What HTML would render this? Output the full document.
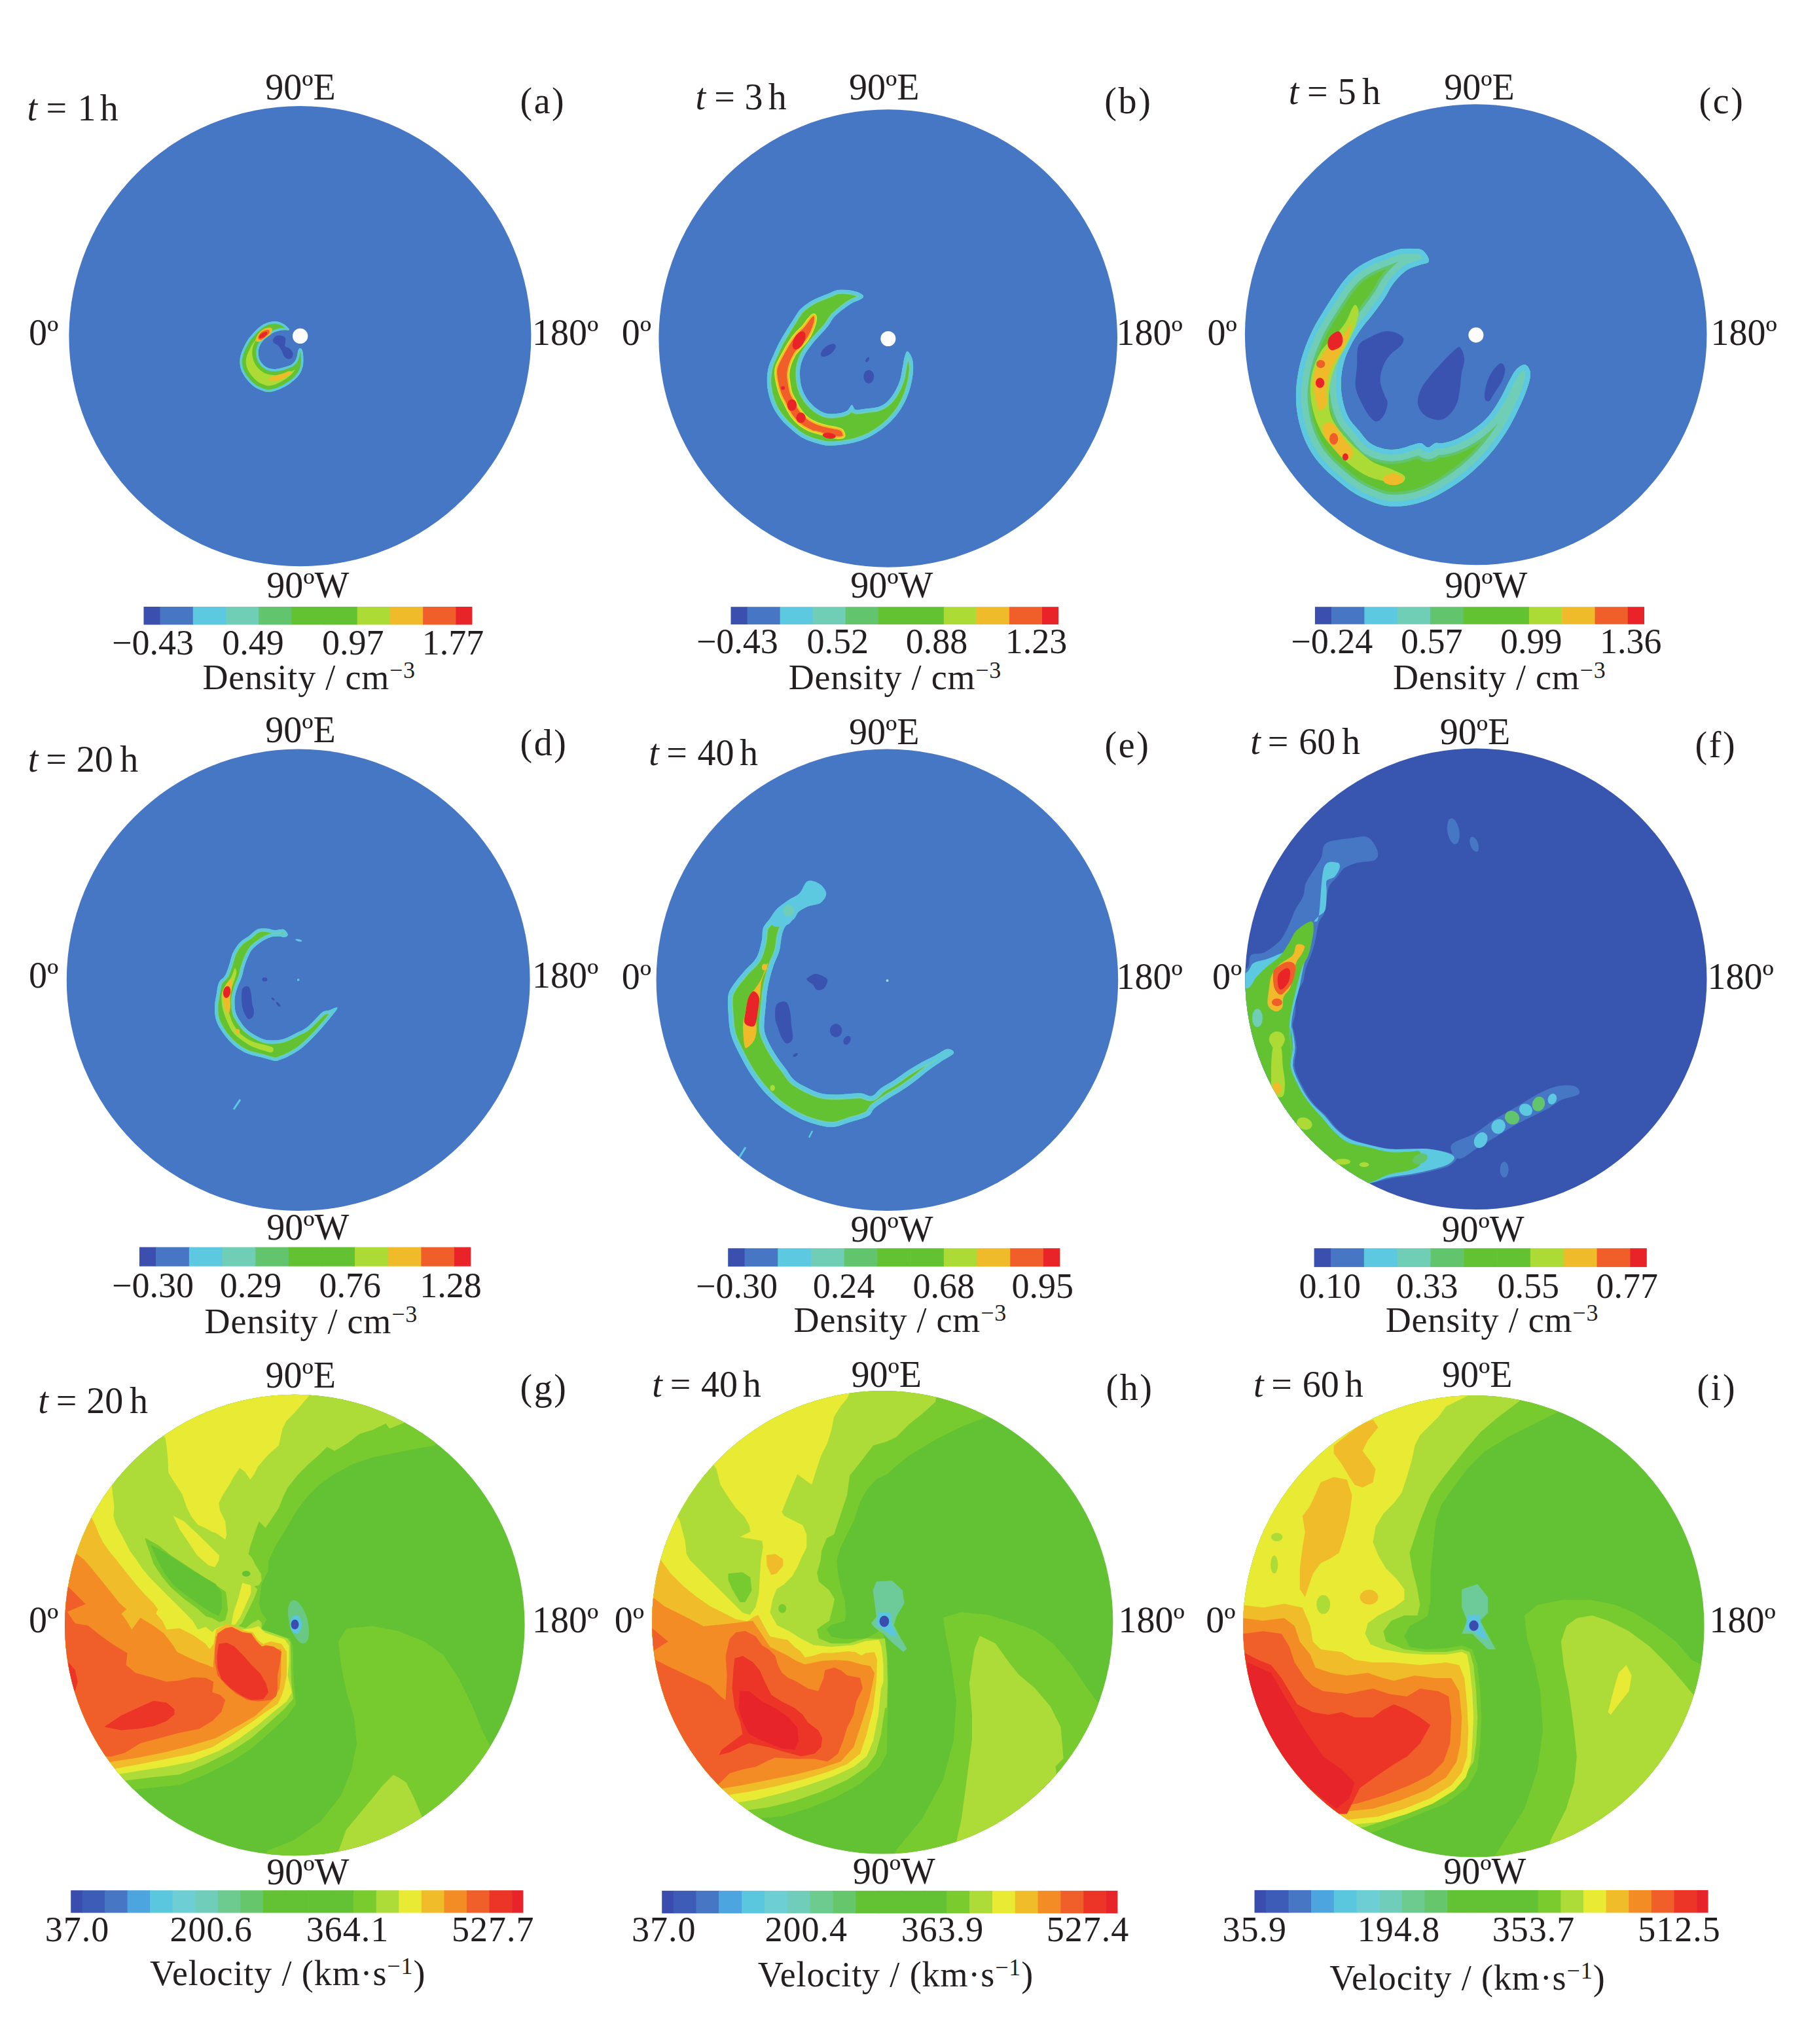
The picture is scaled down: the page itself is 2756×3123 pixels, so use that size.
<!DOCTYPE html>
<html><head><meta charset="utf-8"><title>Figure</title>
<style>
html,body{margin:0;padding:0;background:#fff;}
svg{display:block;}
text{font-family:"Liberation Serif","Times New Roman",serif;fill:#231F20;}
</style></head><body>
<svg xmlns="http://www.w3.org/2000/svg" width="2756" height="3123" viewBox="0 0 2756 3123">
<rect width="2756" height="3123" fill="#fff"/>
<g id="pa">
<clipPath id="cla"><ellipse cx="458.4" cy="513.7" rx="353.0" ry="351.6"/></clipPath>
<ellipse cx="458.4" cy="513.7" rx="353.0" ry="351.6" fill="#4677C5"/>
<g clip-path="url(#cla)"><g transform="translate(350,470) scale(0.077604)"><clipPath id="band6"><path d="M1180.0,420.0 C1168.3,402.5 1130.0,361.7 1100.0,340.0 C1070.0,318.3 1033.3,301.7 1000.0,290.0 C966.7,278.3 936.7,270.0 900.0,270.0 C863.3,270.0 816.7,280.0 780.0,290.0 C743.3,300.0 713.3,311.7 680.0,330.0 C646.7,348.3 613.3,371.7 580.0,400.0 C546.7,428.3 513.3,463.3 480.0,500.0 C446.7,536.7 410.0,576.7 380.0,620.0 C350.0,663.3 323.3,713.3 300.0,760.0 C276.7,806.7 255.0,851.7 240.0,900.0 C225.0,948.3 211.7,1000.0 210.0,1050.0 C208.3,1100.0 216.7,1153.3 230.0,1200.0 C243.3,1246.7 265.0,1288.3 290.0,1330.0 C315.0,1371.7 345.0,1411.7 380.0,1450.0 C415.0,1488.3 460.0,1531.7 500.0,1560.0 C540.0,1588.3 578.3,1603.3 620.0,1620.0 C661.7,1636.7 703.3,1656.7 750.0,1660.0 C796.7,1663.3 850.0,1653.3 900.0,1640.0 C950.0,1626.7 1000.0,1605.0 1050.0,1580.0 C1100.0,1555.0 1153.3,1523.3 1200.0,1490.0 C1246.7,1456.7 1293.3,1420.0 1330.0,1380.0 C1366.7,1340.0 1398.3,1296.7 1420.0,1250.0 C1441.7,1203.3 1453.3,1150.0 1460.0,1100.0 C1466.7,1050.0 1463.3,993.3 1460.0,950.0 C1456.7,906.7 1450.0,865.0 1440.0,840.0 C1430.0,815.0 1413.3,800.0 1400.0,800.0 C1386.7,800.0 1370.0,815.0 1360.0,840.0 C1350.0,865.0 1350.0,915.0 1340.0,950.0 C1330.0,985.0 1318.3,1021.7 1300.0,1050.0 C1281.7,1078.3 1258.3,1101.7 1230.0,1120.0 C1201.7,1138.3 1163.3,1148.3 1130.0,1160.0 C1096.7,1171.7 1065.0,1181.7 1030.0,1190.0 C995.0,1198.3 958.3,1208.3 920.0,1210.0 C881.7,1211.7 836.7,1210.0 800.0,1200.0 C763.3,1190.0 730.0,1173.3 700.0,1150.0 C670.0,1126.7 640.0,1093.3 620.0,1060.0 C600.0,1026.7 586.7,988.3 580.0,950.0 C573.3,911.7 573.3,868.3 580.0,830.0 C586.7,791.7 600.0,755.0 620.0,720.0 C640.0,685.0 670.0,650.0 700.0,620.0 C730.0,590.0 766.7,563.3 800.0,540.0 C833.3,516.7 866.7,495.0 900.0,480.0 C933.3,465.0 966.7,456.7 1000.0,450.0 C1033.3,443.3 1071.7,440.8 1100.0,440.0 C1128.3,439.2 1156.7,448.3 1170.0,445.0 C1183.3,441.7 1191.7,437.5 1180.0,420.0Z"/></clipPath>
<g clip-path="url(#band6)">
<path d="M1180.0,420.0 C1168.3,402.5 1130.0,361.7 1100.0,340.0 C1070.0,318.3 1033.3,301.7 1000.0,290.0 C966.7,278.3 936.7,270.0 900.0,270.0 C863.3,270.0 816.7,280.0 780.0,290.0 C743.3,300.0 713.3,311.7 680.0,330.0 C646.7,348.3 613.3,371.7 580.0,400.0 C546.7,428.3 513.3,463.3 480.0,500.0 C446.7,536.7 410.0,576.7 380.0,620.0 C350.0,663.3 323.3,713.3 300.0,760.0 C276.7,806.7 255.0,851.7 240.0,900.0 C225.0,948.3 211.7,1000.0 210.0,1050.0 C208.3,1100.0 216.7,1153.3 230.0,1200.0 C243.3,1246.7 265.0,1288.3 290.0,1330.0 C315.0,1371.7 345.0,1411.7 380.0,1450.0 C415.0,1488.3 460.0,1531.7 500.0,1560.0 C540.0,1588.3 578.3,1603.3 620.0,1620.0 C661.7,1636.7 703.3,1656.7 750.0,1660.0 C796.7,1663.3 850.0,1653.3 900.0,1640.0 C950.0,1626.7 1000.0,1605.0 1050.0,1580.0 C1100.0,1555.0 1153.3,1523.3 1200.0,1490.0 C1246.7,1456.7 1293.3,1420.0 1330.0,1380.0 C1366.7,1340.0 1398.3,1296.7 1420.0,1250.0 C1441.7,1203.3 1453.3,1150.0 1460.0,1100.0 C1466.7,1050.0 1463.3,993.3 1460.0,950.0 C1456.7,906.7 1450.0,865.0 1440.0,840.0 C1430.0,815.0 1413.3,800.0 1400.0,800.0 C1386.7,800.0 1370.0,815.0 1360.0,840.0 C1350.0,865.0 1350.0,915.0 1340.0,950.0 C1330.0,985.0 1318.3,1021.7 1300.0,1050.0 C1281.7,1078.3 1258.3,1101.7 1230.0,1120.0 C1201.7,1138.3 1163.3,1148.3 1130.0,1160.0 C1096.7,1171.7 1065.0,1181.7 1030.0,1190.0 C995.0,1198.3 958.3,1208.3 920.0,1210.0 C881.7,1211.7 836.7,1210.0 800.0,1200.0 C763.3,1190.0 730.0,1173.3 700.0,1150.0 C670.0,1126.7 640.0,1093.3 620.0,1060.0 C600.0,1026.7 586.7,988.3 580.0,950.0 C573.3,911.7 573.3,868.3 580.0,830.0 C586.7,791.7 600.0,755.0 620.0,720.0 C640.0,685.0 670.0,650.0 700.0,620.0 C730.0,590.0 766.7,563.3 800.0,540.0 C833.3,516.7 866.7,495.0 900.0,480.0 C933.3,465.0 966.7,456.7 1000.0,450.0 C1033.3,443.3 1071.7,440.8 1100.0,440.0 C1128.3,439.2 1156.7,448.3 1170.0,445.0 C1183.3,441.7 1191.7,437.5 1180.0,420.0Z" fill="#ADDB36"/>
<path d="M1180.0,420.0 C1168.3,402.5 1130.0,361.7 1100.0,340.0 C1070.0,318.3 1033.3,301.7 1000.0,290.0 C966.7,278.3 936.7,270.0 900.0,270.0 C863.3,270.0 816.7,280.0 780.0,290.0 C743.3,300.0 713.3,311.7 680.0,330.0 C646.7,348.3 613.3,371.7 580.0,400.0 C546.7,428.3 513.3,463.3 480.0,500.0 C446.7,536.7 410.0,576.7 380.0,620.0 C350.0,663.3 323.3,713.3 300.0,760.0 C276.7,806.7 255.0,851.7 240.0,900.0 C225.0,948.3 211.7,1000.0 210.0,1050.0 C208.3,1100.0 216.7,1153.3 230.0,1200.0 C243.3,1246.7 265.0,1288.3 290.0,1330.0 C315.0,1371.7 345.0,1411.7 380.0,1450.0 C415.0,1488.3 460.0,1531.7 500.0,1560.0 C540.0,1588.3 578.3,1603.3 620.0,1620.0 C661.7,1636.7 703.3,1656.7 750.0,1660.0 C796.7,1663.3 850.0,1653.3 900.0,1640.0 C950.0,1626.7 1000.0,1605.0 1050.0,1580.0 C1100.0,1555.0 1153.3,1523.3 1200.0,1490.0 C1246.7,1456.7 1293.3,1420.0 1330.0,1380.0 C1366.7,1340.0 1398.3,1296.7 1420.0,1250.0 C1441.7,1203.3 1453.3,1150.0 1460.0,1100.0 C1466.7,1050.0 1463.3,993.3 1460.0,950.0 C1456.7,906.7 1450.0,865.0 1440.0,840.0 C1430.0,815.0 1413.3,800.0 1400.0,800.0 C1386.7,800.0 1370.0,815.0 1360.0,840.0 C1350.0,865.0 1350.0,915.0 1340.0,950.0 C1330.0,985.0 1318.3,1021.7 1300.0,1050.0 C1281.7,1078.3 1258.3,1101.7 1230.0,1120.0 C1201.7,1138.3 1163.3,1148.3 1130.0,1160.0 C1096.7,1171.7 1065.0,1181.7 1030.0,1190.0 C995.0,1198.3 958.3,1208.3 920.0,1210.0 C881.7,1211.7 836.7,1210.0 800.0,1200.0 C763.3,1190.0 730.0,1173.3 700.0,1150.0 C670.0,1126.7 640.0,1093.3 620.0,1060.0 C600.0,1026.7 586.7,988.3 580.0,950.0 C573.3,911.7 573.3,868.3 580.0,830.0 C586.7,791.7 600.0,755.0 620.0,720.0 C640.0,685.0 670.0,650.0 700.0,620.0 C730.0,590.0 766.7,563.3 800.0,540.0 C833.3,516.7 866.7,495.0 900.0,480.0 C933.3,465.0 966.7,456.7 1000.0,450.0 C1033.3,443.3 1071.7,440.8 1100.0,440.0 C1128.3,439.2 1156.7,448.3 1170.0,445.0 C1183.3,441.7 1191.7,437.5 1180.0,420.0Z" fill="none" stroke="#62C232" stroke-width="240.0" stroke-linejoin="round"/>
<path d="M1180.0,420.0 C1168.3,402.5 1130.0,361.7 1100.0,340.0 C1070.0,318.3 1033.3,301.7 1000.0,290.0 C966.7,278.3 936.7,270.0 900.0,270.0 C863.3,270.0 816.7,280.0 780.0,290.0 C743.3,300.0 713.3,311.7 680.0,330.0 C646.7,348.3 613.3,371.7 580.0,400.0 C546.7,428.3 513.3,463.3 480.0,500.0 C446.7,536.7 410.0,576.7 380.0,620.0 C350.0,663.3 323.3,713.3 300.0,760.0 C276.7,806.7 255.0,851.7 240.0,900.0 C225.0,948.3 211.7,1000.0 210.0,1050.0 C208.3,1100.0 216.7,1153.3 230.0,1200.0 C243.3,1246.7 265.0,1288.3 290.0,1330.0 C315.0,1371.7 345.0,1411.7 380.0,1450.0 C415.0,1488.3 460.0,1531.7 500.0,1560.0 C540.0,1588.3 578.3,1603.3 620.0,1620.0 C661.7,1636.7 703.3,1656.7 750.0,1660.0 C796.7,1663.3 850.0,1653.3 900.0,1640.0 C950.0,1626.7 1000.0,1605.0 1050.0,1580.0 C1100.0,1555.0 1153.3,1523.3 1200.0,1490.0 C1246.7,1456.7 1293.3,1420.0 1330.0,1380.0 C1366.7,1340.0 1398.3,1296.7 1420.0,1250.0 C1441.7,1203.3 1453.3,1150.0 1460.0,1100.0 C1466.7,1050.0 1463.3,993.3 1460.0,950.0 C1456.7,906.7 1450.0,865.0 1440.0,840.0 C1430.0,815.0 1413.3,800.0 1400.0,800.0 C1386.7,800.0 1370.0,815.0 1360.0,840.0 C1350.0,865.0 1350.0,915.0 1340.0,950.0 C1330.0,985.0 1318.3,1021.7 1300.0,1050.0 C1281.7,1078.3 1258.3,1101.7 1230.0,1120.0 C1201.7,1138.3 1163.3,1148.3 1130.0,1160.0 C1096.7,1171.7 1065.0,1181.7 1030.0,1190.0 C995.0,1198.3 958.3,1208.3 920.0,1210.0 C881.7,1211.7 836.7,1210.0 800.0,1200.0 C763.3,1190.0 730.0,1173.3 700.0,1150.0 C670.0,1126.7 640.0,1093.3 620.0,1060.0 C600.0,1026.7 586.7,988.3 580.0,950.0 C573.3,911.7 573.3,868.3 580.0,830.0 C586.7,791.7 600.0,755.0 620.0,720.0 C640.0,685.0 670.0,650.0 700.0,620.0 C730.0,590.0 766.7,563.3 800.0,540.0 C833.3,516.7 866.7,495.0 900.0,480.0 C933.3,465.0 966.7,456.7 1000.0,450.0 C1033.3,443.3 1071.7,440.8 1100.0,440.0 C1128.3,439.2 1156.7,448.3 1170.0,445.0 C1183.3,441.7 1191.7,437.5 1180.0,420.0Z" fill="none" stroke="#5DC9E1" stroke-width="90.0" stroke-linejoin="round"/>
</g>
<path d="M520.0,650.0 C513.3,628.3 540.0,573.3 560.0,540.0 C580.0,506.7 610.0,473.3 640.0,450.0 C670.0,426.7 708.3,408.3 740.0,400.0 C771.7,391.7 811.7,391.7 830.0,400.0 C848.3,408.3 855.0,428.3 850.0,450.0 C845.0,471.7 825.0,505.0 800.0,530.0 C775.0,555.0 733.3,576.7 700.0,600.0 C666.7,623.3 630.0,661.7 600.0,670.0 C570.0,678.3 526.7,671.7 520.0,650.0Z" fill="#F0BB2B"/>
<path d="M570.0,600.0 C568.3,578.3 598.3,525.0 620.0,500.0 C641.7,475.0 673.3,460.0 700.0,450.0 C726.7,440.0 765.0,431.7 780.0,440.0 C795.0,448.3 800.0,478.3 790.0,500.0 C780.0,521.7 746.7,548.3 720.0,570.0 C693.3,591.7 655.0,625.0 630.0,630.0 C605.0,635.0 571.7,621.7 570.0,600.0Z" fill="#F05F29"/>
<ellipse cx="670" cy="540" rx="95" ry="42" fill="#E92429" transform="rotate(-32 670 540)"/>
<path d="M780.0,1400.0 C796.7,1383.3 855.0,1356.7 900.0,1340.0 C945.0,1323.3 1003.3,1315.0 1050.0,1300.0 C1096.7,1285.0 1150.0,1255.0 1180.0,1250.0 C1210.0,1245.0 1230.0,1256.7 1230.0,1270.0 C1230.0,1283.3 1210.0,1308.3 1180.0,1330.0 C1150.0,1351.7 1096.7,1381.7 1050.0,1400.0 C1003.3,1418.3 941.7,1433.3 900.0,1440.0 C858.3,1446.7 820.0,1446.7 800.0,1440.0 C780.0,1433.3 763.3,1416.7 780.0,1400.0Z" fill="#F0BB2B"/>
<path d="M870.0,620.0 C878.3,600.0 895.0,571.7 920.0,560.0 C945.0,548.3 990.0,545.0 1020.0,550.0 C1050.0,555.0 1085.0,568.3 1100.0,590.0 C1115.0,611.7 1110.0,651.7 1110.0,680.0 C1110.0,708.3 1088.3,740.0 1100.0,760.0 C1111.7,780.0 1155.0,780.0 1180.0,800.0 C1205.0,820.0 1238.3,853.3 1250.0,880.0 C1261.7,906.7 1258.3,938.3 1250.0,960.0 C1241.7,981.7 1220.0,1003.3 1200.0,1010.0 C1180.0,1016.7 1150.0,1010.0 1130.0,1000.0 C1110.0,990.0 1095.0,973.3 1080.0,950.0 C1065.0,926.7 1056.7,891.7 1040.0,860.0 C1023.3,828.3 1000.0,783.3 980.0,760.0 C960.0,736.7 938.3,733.3 920.0,720.0 C901.7,706.7 878.3,696.7 870.0,680.0 C861.7,663.3 861.7,640.0 870.0,620.0Z" fill="#3A52B0"/>
<ellipse cx="1400" cy="560" rx="150" ry="150" fill="#FDFDFD"/></g></g>
<rect x="219.50" y="927.00" width="25.70" height="27.50" fill="#3A4FAE"/>
<rect x="244.59" y="927.00" width="50.79" height="27.50" fill="#4777C4"/>
<rect x="294.78" y="927.00" width="50.79" height="27.50" fill="#5DC9E1"/>
<rect x="344.98" y="927.00" width="50.79" height="27.50" fill="#70CDB6"/>
<rect x="395.16" y="927.00" width="50.79" height="27.50" fill="#62C46C"/>
<rect x="445.36" y="927.00" width="50.79" height="27.50" fill="#62C232"/>
<rect x="495.54" y="927.00" width="50.79" height="27.50" fill="#62C232"/>
<rect x="545.74" y="927.00" width="50.79" height="27.50" fill="#ADDB36"/>
<rect x="595.92" y="927.00" width="50.79" height="27.50" fill="#F0BB2B"/>
<rect x="646.12" y="927.00" width="50.79" height="27.50" fill="#F05F29"/>
<rect x="696.30" y="927.00" width="25.10" height="27.50" fill="#E92429"/>
<text x="41.5" y="183.9" font-size="56" font-style="italic">t</text>
<text x="70.4" y="183.9" font-size="56">=</text>
<text x="118.4" y="183.9" font-size="56">1</text>
<text x="152.8" y="183.9" font-size="56">h</text>
<text x="405.2" y="152.3" font-size="56">90ºE</text>
<text x="794.4" y="173.0" font-size="56" letter-spacing="2.6">(a)</text>
<text x="43.9" y="527.2" font-size="56">0º</text>
<text x="813.1" y="527.1" font-size="56">180º</text>
<text x="407.2" y="913.0" font-size="56">90ºW</text>
<text x="171.0" y="1000.0" font-size="54">−0.43</text>
<text x="339.3" y="1000.0" font-size="54">0.49</text>
<text x="491.9" y="1000.0" font-size="54">0.97</text>
<text x="644.8" y="1000.0" font-size="54">1.77</text>
<text x="309.4" y="1053.0" font-size="54" letter-spacing="0.8">Density / cm<tspan font-size="36" dy="-17">−3</tspan></text>
</g>
<g id="pb">
<clipPath id="clb"><ellipse cx="1356.7" cy="517.0" rx="350.3" ry="349.7"/></clipPath>
<ellipse cx="1356.7" cy="517.0" rx="350.3" ry="349.7" fill="#4677C5"/>
<g clip-path="url(#clb)"><g transform="translate(1150,430) scale(0.144134)"><clipPath id="band12"><path d="M1170.0,150.0 C1161.7,137.5 1128.3,120.0 1100.0,110.0 C1071.7,100.0 1033.3,93.3 1000.0,90.0 C966.7,86.7 933.3,83.3 900.0,90.0 C866.7,96.7 833.3,116.7 800.0,130.0 C766.7,143.3 733.3,155.0 700.0,170.0 C666.7,185.0 633.3,198.3 600.0,220.0 C566.7,241.7 530.0,266.7 500.0,300.0 C470.0,333.3 445.0,381.7 420.0,420.0 C395.0,458.3 373.3,491.7 350.0,530.0 C326.7,568.3 301.7,608.3 280.0,650.0 C258.3,691.7 238.3,738.3 220.0,780.0 C201.7,821.7 181.7,855.0 170.0,900.0 C158.3,945.0 150.0,1000.0 150.0,1050.0 C150.0,1100.0 158.3,1151.7 170.0,1200.0 C181.7,1248.3 198.3,1296.7 220.0,1340.0 C241.7,1383.3 270.0,1423.3 300.0,1460.0 C330.0,1496.7 366.7,1530.0 400.0,1560.0 C433.3,1590.0 466.7,1618.3 500.0,1640.0 C533.3,1661.7 566.7,1676.7 600.0,1690.0 C633.3,1703.3 666.7,1711.7 700.0,1720.0 C733.3,1728.3 758.3,1738.3 800.0,1740.0 C841.7,1741.7 900.0,1736.7 950.0,1730.0 C1000.0,1723.3 1050.0,1715.0 1100.0,1700.0 C1150.0,1685.0 1200.0,1666.7 1250.0,1640.0 C1300.0,1613.3 1355.0,1576.7 1400.0,1540.0 C1445.0,1503.3 1485.0,1463.3 1520.0,1420.0 C1555.0,1376.7 1585.0,1330.0 1610.0,1280.0 C1635.0,1230.0 1655.0,1175.0 1670.0,1120.0 C1685.0,1065.0 1696.7,1000.0 1700.0,950.0 C1703.3,900.0 1700.0,855.0 1690.0,820.0 C1680.0,785.0 1653.3,743.3 1640.0,740.0 C1626.7,736.7 1618.3,773.3 1610.0,800.0 C1601.7,826.7 1598.3,858.3 1590.0,900.0 C1581.7,941.7 1575.0,1003.3 1560.0,1050.0 C1545.0,1096.7 1523.3,1141.7 1500.0,1180.0 C1476.7,1218.3 1448.3,1255.0 1420.0,1280.0 C1391.7,1305.0 1366.7,1318.3 1330.0,1330.0 C1293.3,1341.7 1240.0,1345.0 1200.0,1350.0 C1160.0,1355.0 1115.0,1366.7 1090.0,1360.0 C1065.0,1353.3 1065.0,1308.3 1050.0,1310.0 C1035.0,1311.7 1025.0,1355.0 1000.0,1370.0 C975.0,1385.0 936.7,1395.0 900.0,1400.0 C863.3,1405.0 816.7,1408.3 780.0,1400.0 C743.3,1391.7 713.3,1375.0 680.0,1350.0 C646.7,1325.0 606.7,1286.7 580.0,1250.0 C553.3,1213.3 533.3,1171.7 520.0,1130.0 C506.7,1088.3 501.7,1041.7 500.0,1000.0 C498.3,958.3 500.0,920.0 510.0,880.0 C520.0,840.0 538.3,798.3 560.0,760.0 C581.7,721.7 613.3,683.3 640.0,650.0 C666.7,616.7 693.3,590.0 720.0,560.0 C746.7,530.0 776.7,500.0 800.0,470.0 C823.3,440.0 835.0,408.3 860.0,380.0 C885.0,351.7 918.3,325.0 950.0,300.0 C981.7,275.0 1016.7,249.2 1050.0,230.0 C1083.3,210.8 1130.0,198.3 1150.0,185.0 C1170.0,171.7 1178.3,162.5 1170.0,150.0Z"/></clipPath>
<g clip-path="url(#band12)">
<path d="M1170.0,150.0 C1161.7,137.5 1128.3,120.0 1100.0,110.0 C1071.7,100.0 1033.3,93.3 1000.0,90.0 C966.7,86.7 933.3,83.3 900.0,90.0 C866.7,96.7 833.3,116.7 800.0,130.0 C766.7,143.3 733.3,155.0 700.0,170.0 C666.7,185.0 633.3,198.3 600.0,220.0 C566.7,241.7 530.0,266.7 500.0,300.0 C470.0,333.3 445.0,381.7 420.0,420.0 C395.0,458.3 373.3,491.7 350.0,530.0 C326.7,568.3 301.7,608.3 280.0,650.0 C258.3,691.7 238.3,738.3 220.0,780.0 C201.7,821.7 181.7,855.0 170.0,900.0 C158.3,945.0 150.0,1000.0 150.0,1050.0 C150.0,1100.0 158.3,1151.7 170.0,1200.0 C181.7,1248.3 198.3,1296.7 220.0,1340.0 C241.7,1383.3 270.0,1423.3 300.0,1460.0 C330.0,1496.7 366.7,1530.0 400.0,1560.0 C433.3,1590.0 466.7,1618.3 500.0,1640.0 C533.3,1661.7 566.7,1676.7 600.0,1690.0 C633.3,1703.3 666.7,1711.7 700.0,1720.0 C733.3,1728.3 758.3,1738.3 800.0,1740.0 C841.7,1741.7 900.0,1736.7 950.0,1730.0 C1000.0,1723.3 1050.0,1715.0 1100.0,1700.0 C1150.0,1685.0 1200.0,1666.7 1250.0,1640.0 C1300.0,1613.3 1355.0,1576.7 1400.0,1540.0 C1445.0,1503.3 1485.0,1463.3 1520.0,1420.0 C1555.0,1376.7 1585.0,1330.0 1610.0,1280.0 C1635.0,1230.0 1655.0,1175.0 1670.0,1120.0 C1685.0,1065.0 1696.7,1000.0 1700.0,950.0 C1703.3,900.0 1700.0,855.0 1690.0,820.0 C1680.0,785.0 1653.3,743.3 1640.0,740.0 C1626.7,736.7 1618.3,773.3 1610.0,800.0 C1601.7,826.7 1598.3,858.3 1590.0,900.0 C1581.7,941.7 1575.0,1003.3 1560.0,1050.0 C1545.0,1096.7 1523.3,1141.7 1500.0,1180.0 C1476.7,1218.3 1448.3,1255.0 1420.0,1280.0 C1391.7,1305.0 1366.7,1318.3 1330.0,1330.0 C1293.3,1341.7 1240.0,1345.0 1200.0,1350.0 C1160.0,1355.0 1115.0,1366.7 1090.0,1360.0 C1065.0,1353.3 1065.0,1308.3 1050.0,1310.0 C1035.0,1311.7 1025.0,1355.0 1000.0,1370.0 C975.0,1385.0 936.7,1395.0 900.0,1400.0 C863.3,1405.0 816.7,1408.3 780.0,1400.0 C743.3,1391.7 713.3,1375.0 680.0,1350.0 C646.7,1325.0 606.7,1286.7 580.0,1250.0 C553.3,1213.3 533.3,1171.7 520.0,1130.0 C506.7,1088.3 501.7,1041.7 500.0,1000.0 C498.3,958.3 500.0,920.0 510.0,880.0 C520.0,840.0 538.3,798.3 560.0,760.0 C581.7,721.7 613.3,683.3 640.0,650.0 C666.7,616.7 693.3,590.0 720.0,560.0 C746.7,530.0 776.7,500.0 800.0,470.0 C823.3,440.0 835.0,408.3 860.0,380.0 C885.0,351.7 918.3,325.0 950.0,300.0 C981.7,275.0 1016.7,249.2 1050.0,230.0 C1083.3,210.8 1130.0,198.3 1150.0,185.0 C1170.0,171.7 1178.3,162.5 1170.0,150.0Z" fill="#62C232"/>
<path d="M1170.0,150.0 C1161.7,137.5 1128.3,120.0 1100.0,110.0 C1071.7,100.0 1033.3,93.3 1000.0,90.0 C966.7,86.7 933.3,83.3 900.0,90.0 C866.7,96.7 833.3,116.7 800.0,130.0 C766.7,143.3 733.3,155.0 700.0,170.0 C666.7,185.0 633.3,198.3 600.0,220.0 C566.7,241.7 530.0,266.7 500.0,300.0 C470.0,333.3 445.0,381.7 420.0,420.0 C395.0,458.3 373.3,491.7 350.0,530.0 C326.7,568.3 301.7,608.3 280.0,650.0 C258.3,691.7 238.3,738.3 220.0,780.0 C201.7,821.7 181.7,855.0 170.0,900.0 C158.3,945.0 150.0,1000.0 150.0,1050.0 C150.0,1100.0 158.3,1151.7 170.0,1200.0 C181.7,1248.3 198.3,1296.7 220.0,1340.0 C241.7,1383.3 270.0,1423.3 300.0,1460.0 C330.0,1496.7 366.7,1530.0 400.0,1560.0 C433.3,1590.0 466.7,1618.3 500.0,1640.0 C533.3,1661.7 566.7,1676.7 600.0,1690.0 C633.3,1703.3 666.7,1711.7 700.0,1720.0 C733.3,1728.3 758.3,1738.3 800.0,1740.0 C841.7,1741.7 900.0,1736.7 950.0,1730.0 C1000.0,1723.3 1050.0,1715.0 1100.0,1700.0 C1150.0,1685.0 1200.0,1666.7 1250.0,1640.0 C1300.0,1613.3 1355.0,1576.7 1400.0,1540.0 C1445.0,1503.3 1485.0,1463.3 1520.0,1420.0 C1555.0,1376.7 1585.0,1330.0 1610.0,1280.0 C1635.0,1230.0 1655.0,1175.0 1670.0,1120.0 C1685.0,1065.0 1696.7,1000.0 1700.0,950.0 C1703.3,900.0 1700.0,855.0 1690.0,820.0 C1680.0,785.0 1653.3,743.3 1640.0,740.0 C1626.7,736.7 1618.3,773.3 1610.0,800.0 C1601.7,826.7 1598.3,858.3 1590.0,900.0 C1581.7,941.7 1575.0,1003.3 1560.0,1050.0 C1545.0,1096.7 1523.3,1141.7 1500.0,1180.0 C1476.7,1218.3 1448.3,1255.0 1420.0,1280.0 C1391.7,1305.0 1366.7,1318.3 1330.0,1330.0 C1293.3,1341.7 1240.0,1345.0 1200.0,1350.0 C1160.0,1355.0 1115.0,1366.7 1090.0,1360.0 C1065.0,1353.3 1065.0,1308.3 1050.0,1310.0 C1035.0,1311.7 1025.0,1355.0 1000.0,1370.0 C975.0,1385.0 936.7,1395.0 900.0,1400.0 C863.3,1405.0 816.7,1408.3 780.0,1400.0 C743.3,1391.7 713.3,1375.0 680.0,1350.0 C646.7,1325.0 606.7,1286.7 580.0,1250.0 C553.3,1213.3 533.3,1171.7 520.0,1130.0 C506.7,1088.3 501.7,1041.7 500.0,1000.0 C498.3,958.3 500.0,920.0 510.0,880.0 C520.0,840.0 538.3,798.3 560.0,760.0 C581.7,721.7 613.3,683.3 640.0,650.0 C666.7,616.7 693.3,590.0 720.0,560.0 C746.7,530.0 776.7,500.0 800.0,470.0 C823.3,440.0 835.0,408.3 860.0,380.0 C885.0,351.7 918.3,325.0 950.0,300.0 C981.7,275.0 1016.7,249.2 1050.0,230.0 C1083.3,210.8 1130.0,198.3 1150.0,185.0 C1170.0,171.7 1178.3,162.5 1170.0,150.0Z" fill="none" stroke="#70CDB6" stroke-width="90.0" stroke-linejoin="round"/>
<path d="M1170.0,150.0 C1161.7,137.5 1128.3,120.0 1100.0,110.0 C1071.7,100.0 1033.3,93.3 1000.0,90.0 C966.7,86.7 933.3,83.3 900.0,90.0 C866.7,96.7 833.3,116.7 800.0,130.0 C766.7,143.3 733.3,155.0 700.0,170.0 C666.7,185.0 633.3,198.3 600.0,220.0 C566.7,241.7 530.0,266.7 500.0,300.0 C470.0,333.3 445.0,381.7 420.0,420.0 C395.0,458.3 373.3,491.7 350.0,530.0 C326.7,568.3 301.7,608.3 280.0,650.0 C258.3,691.7 238.3,738.3 220.0,780.0 C201.7,821.7 181.7,855.0 170.0,900.0 C158.3,945.0 150.0,1000.0 150.0,1050.0 C150.0,1100.0 158.3,1151.7 170.0,1200.0 C181.7,1248.3 198.3,1296.7 220.0,1340.0 C241.7,1383.3 270.0,1423.3 300.0,1460.0 C330.0,1496.7 366.7,1530.0 400.0,1560.0 C433.3,1590.0 466.7,1618.3 500.0,1640.0 C533.3,1661.7 566.7,1676.7 600.0,1690.0 C633.3,1703.3 666.7,1711.7 700.0,1720.0 C733.3,1728.3 758.3,1738.3 800.0,1740.0 C841.7,1741.7 900.0,1736.7 950.0,1730.0 C1000.0,1723.3 1050.0,1715.0 1100.0,1700.0 C1150.0,1685.0 1200.0,1666.7 1250.0,1640.0 C1300.0,1613.3 1355.0,1576.7 1400.0,1540.0 C1445.0,1503.3 1485.0,1463.3 1520.0,1420.0 C1555.0,1376.7 1585.0,1330.0 1610.0,1280.0 C1635.0,1230.0 1655.0,1175.0 1670.0,1120.0 C1685.0,1065.0 1696.7,1000.0 1700.0,950.0 C1703.3,900.0 1700.0,855.0 1690.0,820.0 C1680.0,785.0 1653.3,743.3 1640.0,740.0 C1626.7,736.7 1618.3,773.3 1610.0,800.0 C1601.7,826.7 1598.3,858.3 1590.0,900.0 C1581.7,941.7 1575.0,1003.3 1560.0,1050.0 C1545.0,1096.7 1523.3,1141.7 1500.0,1180.0 C1476.7,1218.3 1448.3,1255.0 1420.0,1280.0 C1391.7,1305.0 1366.7,1318.3 1330.0,1330.0 C1293.3,1341.7 1240.0,1345.0 1200.0,1350.0 C1160.0,1355.0 1115.0,1366.7 1090.0,1360.0 C1065.0,1353.3 1065.0,1308.3 1050.0,1310.0 C1035.0,1311.7 1025.0,1355.0 1000.0,1370.0 C975.0,1385.0 936.7,1395.0 900.0,1400.0 C863.3,1405.0 816.7,1408.3 780.0,1400.0 C743.3,1391.7 713.3,1375.0 680.0,1350.0 C646.7,1325.0 606.7,1286.7 580.0,1250.0 C553.3,1213.3 533.3,1171.7 520.0,1130.0 C506.7,1088.3 501.7,1041.7 500.0,1000.0 C498.3,958.3 500.0,920.0 510.0,880.0 C520.0,840.0 538.3,798.3 560.0,760.0 C581.7,721.7 613.3,683.3 640.0,650.0 C666.7,616.7 693.3,590.0 720.0,560.0 C746.7,530.0 776.7,500.0 800.0,470.0 C823.3,440.0 835.0,408.3 860.0,380.0 C885.0,351.7 918.3,325.0 950.0,300.0 C981.7,275.0 1016.7,249.2 1050.0,230.0 C1083.3,210.8 1130.0,198.3 1150.0,185.0 C1170.0,171.7 1178.3,162.5 1170.0,150.0Z" fill="none" stroke="#5DC9E1" stroke-width="60.0" stroke-linejoin="round"/>
</g>
<path d="M640.0,360.0 C630.0,363.3 616.7,380.0 600.0,400.0 C583.3,420.0 563.3,453.3 540.0,480.0 C516.7,506.7 483.3,533.3 460.0,560.0 C436.7,586.7 421.7,606.7 400.0,640.0 C378.3,673.3 353.3,716.7 330.0,760.0 C306.7,803.3 273.3,863.3 260.0,900.0 C246.7,936.7 248.3,946.7 250.0,980.0 C251.7,1013.3 261.7,1063.3 270.0,1100.0 C278.3,1136.7 288.3,1170.0 300.0,1200.0 C311.7,1230.0 326.7,1253.3 340.0,1280.0 C353.3,1306.7 365.0,1333.3 380.0,1360.0 C395.0,1386.7 410.0,1415.0 430.0,1440.0 C450.0,1465.0 471.7,1488.3 500.0,1510.0 C528.3,1531.7 566.7,1555.0 600.0,1570.0 C633.3,1585.0 666.7,1590.0 700.0,1600.0 C733.3,1610.0 766.7,1621.7 800.0,1630.0 C833.3,1638.3 873.3,1648.3 900.0,1650.0 C926.7,1651.7 953.3,1651.7 960.0,1640.0 C966.7,1628.3 953.3,1593.3 940.0,1580.0 C926.7,1566.7 906.7,1566.7 880.0,1560.0 C853.3,1553.3 813.3,1548.3 780.0,1540.0 C746.7,1531.7 710.0,1521.7 680.0,1510.0 C650.0,1498.3 623.3,1485.0 600.0,1470.0 C576.7,1455.0 560.0,1441.7 540.0,1420.0 C520.0,1398.3 496.7,1366.7 480.0,1340.0 C463.3,1313.3 453.3,1286.7 440.0,1260.0 C426.7,1233.3 410.0,1210.0 400.0,1180.0 C390.0,1150.0 385.0,1113.3 380.0,1080.0 C375.0,1046.7 368.3,1013.3 370.0,980.0 C371.7,946.7 378.3,915.0 390.0,880.0 C401.7,845.0 421.7,800.0 440.0,770.0 C458.3,740.0 478.3,725.0 500.0,700.0 C521.7,675.0 550.0,648.3 570.0,620.0 C590.0,591.7 606.7,558.3 620.0,530.0 C633.3,501.7 643.3,475.0 650.0,450.0 C656.7,425.0 661.7,395.0 660.0,380.0 C658.3,365.0 650.0,356.7 640.0,360.0Z" fill="#F05F29" stroke="#E6DF2E" stroke-width="40" stroke-linejoin="round"/>
<path d="M640.0,360.0 C630.0,363.3 616.7,380.0 600.0,400.0 C583.3,420.0 563.3,453.3 540.0,480.0 C516.7,506.7 483.3,533.3 460.0,560.0 C436.7,586.7 421.7,606.7 400.0,640.0 C378.3,673.3 353.3,716.7 330.0,760.0 C306.7,803.3 273.3,863.3 260.0,900.0 C246.7,936.7 248.3,946.7 250.0,980.0 C251.7,1013.3 261.7,1063.3 270.0,1100.0 C278.3,1136.7 288.3,1170.0 300.0,1200.0 C311.7,1230.0 326.7,1253.3 340.0,1280.0 C353.3,1306.7 365.0,1333.3 380.0,1360.0 C395.0,1386.7 410.0,1415.0 430.0,1440.0 C450.0,1465.0 471.7,1488.3 500.0,1510.0 C528.3,1531.7 566.7,1555.0 600.0,1570.0 C633.3,1585.0 666.7,1590.0 700.0,1600.0 C733.3,1610.0 766.7,1621.7 800.0,1630.0 C833.3,1638.3 873.3,1648.3 900.0,1650.0 C926.7,1651.7 953.3,1651.7 960.0,1640.0 C966.7,1628.3 953.3,1593.3 940.0,1580.0 C926.7,1566.7 906.7,1566.7 880.0,1560.0 C853.3,1553.3 813.3,1548.3 780.0,1540.0 C746.7,1531.7 710.0,1521.7 680.0,1510.0 C650.0,1498.3 623.3,1485.0 600.0,1470.0 C576.7,1455.0 560.0,1441.7 540.0,1420.0 C520.0,1398.3 496.7,1366.7 480.0,1340.0 C463.3,1313.3 453.3,1286.7 440.0,1260.0 C426.7,1233.3 410.0,1210.0 400.0,1180.0 C390.0,1150.0 385.0,1113.3 380.0,1080.0 C375.0,1046.7 368.3,1013.3 370.0,980.0 C371.7,946.7 378.3,915.0 390.0,880.0 C401.7,845.0 421.7,800.0 440.0,770.0 C458.3,740.0 478.3,725.0 500.0,700.0 C521.7,675.0 550.0,648.3 570.0,620.0 C590.0,591.7 606.7,558.3 620.0,530.0 C633.3,501.7 643.3,475.0 650.0,450.0 C656.7,425.0 661.7,395.0 660.0,380.0 C658.3,365.0 650.0,356.7 640.0,360.0Z" fill="#F05F29" stroke="#F0BB2B" stroke-width="16" stroke-linejoin="round"/>
<ellipse cx="490" cy="625" rx="55" ry="105" fill="#E92429" transform="rotate(28 490 625)"/>
<ellipse cx="415" cy="1310" rx="50" ry="62" fill="#E92429"/>
<ellipse cx="510" cy="1445" rx="50" ry="55" fill="#E92429"/>
<ellipse cx="810" cy="1635" rx="70" ry="30" fill="#E92429" transform="rotate(8 810 1635)"/>
<ellipse cx="650" cy="1560" rx="28" ry="22" fill="#F05F29"/>
<ellipse cx="320" cy="1130" rx="20" ry="20" fill="#E92429"/>
<ellipse cx="800" cy="730" rx="95" ry="45" fill="#3A52B0" transform="rotate(-38 800 730)"/>
<ellipse cx="1230" cy="1010" rx="55" ry="72" fill="#3A52B0"/>
<ellipse cx="1215" cy="830" rx="15" ry="30" fill="#3A52B0" transform="rotate(30 1215 830)"/>
<ellipse cx="1435" cy="607" rx="80" ry="80" fill="#FDFDFD"/></g></g>
<rect x="1116.50" y="927.20" width="25.63" height="26.90" fill="#3A4FAE"/>
<rect x="1141.53" y="927.20" width="50.65" height="26.90" fill="#4777C4"/>
<rect x="1191.58" y="927.20" width="50.65" height="26.90" fill="#5DC9E1"/>
<rect x="1241.62" y="927.20" width="50.65" height="26.90" fill="#70CDB6"/>
<rect x="1291.68" y="927.20" width="50.65" height="26.90" fill="#62C46C"/>
<rect x="1341.73" y="927.20" width="50.65" height="26.90" fill="#62C232"/>
<rect x="1391.78" y="927.20" width="50.65" height="26.90" fill="#62C232"/>
<rect x="1441.83" y="927.20" width="50.65" height="26.90" fill="#ADDB36"/>
<rect x="1491.88" y="927.20" width="50.65" height="26.90" fill="#F0BB2B"/>
<rect x="1541.93" y="927.20" width="50.65" height="26.90" fill="#F05F29"/>
<rect x="1591.98" y="927.20" width="25.02" height="26.90" fill="#E92429"/>
<text x="1062.6" y="166.9" font-size="56" font-style="italic">t</text>
<text x="1091.2" y="166.9" font-size="56">=</text>
<text x="1137.5" y="166.9" font-size="56">3</text>
<text x="1173.7" y="166.9" font-size="56">h</text>
<text x="1296.9" y="152.0" font-size="56">90ºE</text>
<text x="1687.3" y="172.8" font-size="56" letter-spacing="2.6">(b)</text>
<text x="949.8" y="527.1" font-size="56">0º</text>
<text x="1705.6" y="526.8" font-size="56">180º</text>
<text x="1299.2" y="913.3" font-size="56">90ºW</text>
<text x="1063.9" y="998.0" font-size="54">−0.43</text>
<text x="1232.5" y="998.0" font-size="54">0.52</text>
<text x="1383.8" y="998.0" font-size="54">0.88</text>
<text x="1535.8" y="998.0" font-size="54">1.23</text>
<text x="1204.7" y="1052.9" font-size="54" letter-spacing="0.8">Density / cm<tspan font-size="36" dy="-17">−3</tspan></text>
</g>
<g id="pc">
<clipPath id="clc"><ellipse cx="2254.7" cy="511.3" rx="352.8" ry="352.0"/></clipPath>
<ellipse cx="2254.7" cy="511.3" rx="352.8" ry="352.0" fill="#4677C5"/>
<g clip-path="url(#clc)"><g transform="translate(1960,360) scale(0.221729)"><clipPath id="band18"><path d="M1000.0,150.0 C993.3,135.8 976.7,110.0 960.0,100.0 C943.3,90.0 926.7,90.8 900.0,90.0 C873.3,89.2 833.3,88.3 800.0,95.0 C766.7,101.7 733.3,117.5 700.0,130.0 C666.7,142.5 633.3,153.3 600.0,170.0 C566.7,186.7 530.0,206.7 500.0,230.0 C470.0,253.3 445.0,280.0 420.0,310.0 C395.0,340.0 373.3,375.0 350.0,410.0 C326.7,445.0 303.3,481.7 280.0,520.0 C256.7,558.3 231.7,596.7 210.0,640.0 C188.3,683.3 166.7,733.3 150.0,780.0 C133.3,826.7 120.0,870.0 110.0,920.0 C100.0,970.0 91.7,1028.3 90.0,1080.0 C88.3,1131.7 91.7,1180.0 100.0,1230.0 C108.3,1280.0 123.3,1335.0 140.0,1380.0 C156.7,1425.0 176.7,1463.3 200.0,1500.0 C223.3,1536.7 250.0,1568.3 280.0,1600.0 C310.0,1631.7 348.3,1663.3 380.0,1690.0 C411.7,1716.7 440.0,1740.0 470.0,1760.0 C500.0,1780.0 521.7,1793.3 560.0,1810.0 C598.3,1826.7 651.7,1851.7 700.0,1860.0 C748.3,1868.3 800.0,1866.7 850.0,1860.0 C900.0,1853.3 950.0,1840.0 1000.0,1820.0 C1050.0,1800.0 1100.0,1771.7 1150.0,1740.0 C1200.0,1708.3 1253.3,1670.0 1300.0,1630.0 C1346.7,1590.0 1390.0,1546.7 1430.0,1500.0 C1470.0,1453.3 1508.3,1400.0 1540.0,1350.0 C1571.7,1300.0 1596.7,1248.3 1620.0,1200.0 C1643.3,1151.7 1665.8,1101.7 1680.0,1060.0 C1694.2,1018.3 1706.7,978.3 1705.0,950.0 C1703.3,921.7 1685.8,895.0 1670.0,890.0 C1654.2,885.0 1628.3,901.7 1610.0,920.0 C1591.7,938.3 1578.3,966.7 1560.0,1000.0 C1541.7,1033.3 1523.3,1080.0 1500.0,1120.0 C1476.7,1160.0 1450.0,1205.0 1420.0,1240.0 C1390.0,1275.0 1356.7,1303.3 1320.0,1330.0 C1283.3,1356.7 1236.7,1383.3 1200.0,1400.0 C1163.3,1416.7 1125.0,1425.0 1100.0,1430.0 C1075.0,1435.0 1066.7,1425.0 1050.0,1430.0 C1033.3,1435.0 1016.7,1460.0 1000.0,1460.0 C983.3,1460.0 966.7,1433.3 950.0,1430.0 C933.3,1426.7 925.0,1433.3 900.0,1440.0 C875.0,1446.7 833.3,1465.0 800.0,1470.0 C766.7,1475.0 733.3,1476.7 700.0,1470.0 C666.7,1463.3 630.0,1451.7 600.0,1430.0 C570.0,1408.3 545.0,1370.0 520.0,1340.0 C495.0,1310.0 468.3,1285.0 450.0,1250.0 C431.7,1215.0 418.3,1171.7 410.0,1130.0 C401.7,1088.3 398.3,1043.3 400.0,1000.0 C401.7,956.7 408.3,911.7 420.0,870.0 C431.7,828.3 450.0,788.3 470.0,750.0 C490.0,711.7 515.0,675.0 540.0,640.0 C565.0,605.0 593.3,575.0 620.0,540.0 C646.7,505.0 676.7,465.0 700.0,430.0 C723.3,395.0 735.0,361.7 760.0,330.0 C785.0,298.3 818.3,261.7 850.0,240.0 C881.7,218.3 925.0,209.2 950.0,200.0 C975.0,190.8 991.7,193.3 1000.0,185.0 C1008.3,176.7 1006.7,164.2 1000.0,150.0Z"/></clipPath>
<g clip-path="url(#band18)">
<path d="M1000.0,150.0 C993.3,135.8 976.7,110.0 960.0,100.0 C943.3,90.0 926.7,90.8 900.0,90.0 C873.3,89.2 833.3,88.3 800.0,95.0 C766.7,101.7 733.3,117.5 700.0,130.0 C666.7,142.5 633.3,153.3 600.0,170.0 C566.7,186.7 530.0,206.7 500.0,230.0 C470.0,253.3 445.0,280.0 420.0,310.0 C395.0,340.0 373.3,375.0 350.0,410.0 C326.7,445.0 303.3,481.7 280.0,520.0 C256.7,558.3 231.7,596.7 210.0,640.0 C188.3,683.3 166.7,733.3 150.0,780.0 C133.3,826.7 120.0,870.0 110.0,920.0 C100.0,970.0 91.7,1028.3 90.0,1080.0 C88.3,1131.7 91.7,1180.0 100.0,1230.0 C108.3,1280.0 123.3,1335.0 140.0,1380.0 C156.7,1425.0 176.7,1463.3 200.0,1500.0 C223.3,1536.7 250.0,1568.3 280.0,1600.0 C310.0,1631.7 348.3,1663.3 380.0,1690.0 C411.7,1716.7 440.0,1740.0 470.0,1760.0 C500.0,1780.0 521.7,1793.3 560.0,1810.0 C598.3,1826.7 651.7,1851.7 700.0,1860.0 C748.3,1868.3 800.0,1866.7 850.0,1860.0 C900.0,1853.3 950.0,1840.0 1000.0,1820.0 C1050.0,1800.0 1100.0,1771.7 1150.0,1740.0 C1200.0,1708.3 1253.3,1670.0 1300.0,1630.0 C1346.7,1590.0 1390.0,1546.7 1430.0,1500.0 C1470.0,1453.3 1508.3,1400.0 1540.0,1350.0 C1571.7,1300.0 1596.7,1248.3 1620.0,1200.0 C1643.3,1151.7 1665.8,1101.7 1680.0,1060.0 C1694.2,1018.3 1706.7,978.3 1705.0,950.0 C1703.3,921.7 1685.8,895.0 1670.0,890.0 C1654.2,885.0 1628.3,901.7 1610.0,920.0 C1591.7,938.3 1578.3,966.7 1560.0,1000.0 C1541.7,1033.3 1523.3,1080.0 1500.0,1120.0 C1476.7,1160.0 1450.0,1205.0 1420.0,1240.0 C1390.0,1275.0 1356.7,1303.3 1320.0,1330.0 C1283.3,1356.7 1236.7,1383.3 1200.0,1400.0 C1163.3,1416.7 1125.0,1425.0 1100.0,1430.0 C1075.0,1435.0 1066.7,1425.0 1050.0,1430.0 C1033.3,1435.0 1016.7,1460.0 1000.0,1460.0 C983.3,1460.0 966.7,1433.3 950.0,1430.0 C933.3,1426.7 925.0,1433.3 900.0,1440.0 C875.0,1446.7 833.3,1465.0 800.0,1470.0 C766.7,1475.0 733.3,1476.7 700.0,1470.0 C666.7,1463.3 630.0,1451.7 600.0,1430.0 C570.0,1408.3 545.0,1370.0 520.0,1340.0 C495.0,1310.0 468.3,1285.0 450.0,1250.0 C431.7,1215.0 418.3,1171.7 410.0,1130.0 C401.7,1088.3 398.3,1043.3 400.0,1000.0 C401.7,956.7 408.3,911.7 420.0,870.0 C431.7,828.3 450.0,788.3 470.0,750.0 C490.0,711.7 515.0,675.0 540.0,640.0 C565.0,605.0 593.3,575.0 620.0,540.0 C646.7,505.0 676.7,465.0 700.0,430.0 C723.3,395.0 735.0,361.7 760.0,330.0 C785.0,298.3 818.3,261.7 850.0,240.0 C881.7,218.3 925.0,209.2 950.0,200.0 C975.0,190.8 991.7,193.3 1000.0,185.0 C1008.3,176.7 1006.7,164.2 1000.0,150.0Z" fill="#62C232"/>
<path d="M1000.0,150.0 C993.3,135.8 976.7,110.0 960.0,100.0 C943.3,90.0 926.7,90.8 900.0,90.0 C873.3,89.2 833.3,88.3 800.0,95.0 C766.7,101.7 733.3,117.5 700.0,130.0 C666.7,142.5 633.3,153.3 600.0,170.0 C566.7,186.7 530.0,206.7 500.0,230.0 C470.0,253.3 445.0,280.0 420.0,310.0 C395.0,340.0 373.3,375.0 350.0,410.0 C326.7,445.0 303.3,481.7 280.0,520.0 C256.7,558.3 231.7,596.7 210.0,640.0 C188.3,683.3 166.7,733.3 150.0,780.0 C133.3,826.7 120.0,870.0 110.0,920.0 C100.0,970.0 91.7,1028.3 90.0,1080.0 C88.3,1131.7 91.7,1180.0 100.0,1230.0 C108.3,1280.0 123.3,1335.0 140.0,1380.0 C156.7,1425.0 176.7,1463.3 200.0,1500.0 C223.3,1536.7 250.0,1568.3 280.0,1600.0 C310.0,1631.7 348.3,1663.3 380.0,1690.0 C411.7,1716.7 440.0,1740.0 470.0,1760.0 C500.0,1780.0 521.7,1793.3 560.0,1810.0 C598.3,1826.7 651.7,1851.7 700.0,1860.0 C748.3,1868.3 800.0,1866.7 850.0,1860.0 C900.0,1853.3 950.0,1840.0 1000.0,1820.0 C1050.0,1800.0 1100.0,1771.7 1150.0,1740.0 C1200.0,1708.3 1253.3,1670.0 1300.0,1630.0 C1346.7,1590.0 1390.0,1546.7 1430.0,1500.0 C1470.0,1453.3 1508.3,1400.0 1540.0,1350.0 C1571.7,1300.0 1596.7,1248.3 1620.0,1200.0 C1643.3,1151.7 1665.8,1101.7 1680.0,1060.0 C1694.2,1018.3 1706.7,978.3 1705.0,950.0 C1703.3,921.7 1685.8,895.0 1670.0,890.0 C1654.2,885.0 1628.3,901.7 1610.0,920.0 C1591.7,938.3 1578.3,966.7 1560.0,1000.0 C1541.7,1033.3 1523.3,1080.0 1500.0,1120.0 C1476.7,1160.0 1450.0,1205.0 1420.0,1240.0 C1390.0,1275.0 1356.7,1303.3 1320.0,1330.0 C1283.3,1356.7 1236.7,1383.3 1200.0,1400.0 C1163.3,1416.7 1125.0,1425.0 1100.0,1430.0 C1075.0,1435.0 1066.7,1425.0 1050.0,1430.0 C1033.3,1435.0 1016.7,1460.0 1000.0,1460.0 C983.3,1460.0 966.7,1433.3 950.0,1430.0 C933.3,1426.7 925.0,1433.3 900.0,1440.0 C875.0,1446.7 833.3,1465.0 800.0,1470.0 C766.7,1475.0 733.3,1476.7 700.0,1470.0 C666.7,1463.3 630.0,1451.7 600.0,1430.0 C570.0,1408.3 545.0,1370.0 520.0,1340.0 C495.0,1310.0 468.3,1285.0 450.0,1250.0 C431.7,1215.0 418.3,1171.7 410.0,1130.0 C401.7,1088.3 398.3,1043.3 400.0,1000.0 C401.7,956.7 408.3,911.7 420.0,870.0 C431.7,828.3 450.0,788.3 470.0,750.0 C490.0,711.7 515.0,675.0 540.0,640.0 C565.0,605.0 593.3,575.0 620.0,540.0 C646.7,505.0 676.7,465.0 700.0,430.0 C723.3,395.0 735.0,361.7 760.0,330.0 C785.0,298.3 818.3,261.7 850.0,240.0 C881.7,218.3 925.0,209.2 950.0,200.0 C975.0,190.8 991.7,193.3 1000.0,185.0 C1008.3,176.7 1006.7,164.2 1000.0,150.0Z" fill="none" stroke="#62C46C" stroke-width="200.0" stroke-linejoin="round"/>
<path d="M1000.0,150.0 C993.3,135.8 976.7,110.0 960.0,100.0 C943.3,90.0 926.7,90.8 900.0,90.0 C873.3,89.2 833.3,88.3 800.0,95.0 C766.7,101.7 733.3,117.5 700.0,130.0 C666.7,142.5 633.3,153.3 600.0,170.0 C566.7,186.7 530.0,206.7 500.0,230.0 C470.0,253.3 445.0,280.0 420.0,310.0 C395.0,340.0 373.3,375.0 350.0,410.0 C326.7,445.0 303.3,481.7 280.0,520.0 C256.7,558.3 231.7,596.7 210.0,640.0 C188.3,683.3 166.7,733.3 150.0,780.0 C133.3,826.7 120.0,870.0 110.0,920.0 C100.0,970.0 91.7,1028.3 90.0,1080.0 C88.3,1131.7 91.7,1180.0 100.0,1230.0 C108.3,1280.0 123.3,1335.0 140.0,1380.0 C156.7,1425.0 176.7,1463.3 200.0,1500.0 C223.3,1536.7 250.0,1568.3 280.0,1600.0 C310.0,1631.7 348.3,1663.3 380.0,1690.0 C411.7,1716.7 440.0,1740.0 470.0,1760.0 C500.0,1780.0 521.7,1793.3 560.0,1810.0 C598.3,1826.7 651.7,1851.7 700.0,1860.0 C748.3,1868.3 800.0,1866.7 850.0,1860.0 C900.0,1853.3 950.0,1840.0 1000.0,1820.0 C1050.0,1800.0 1100.0,1771.7 1150.0,1740.0 C1200.0,1708.3 1253.3,1670.0 1300.0,1630.0 C1346.7,1590.0 1390.0,1546.7 1430.0,1500.0 C1470.0,1453.3 1508.3,1400.0 1540.0,1350.0 C1571.7,1300.0 1596.7,1248.3 1620.0,1200.0 C1643.3,1151.7 1665.8,1101.7 1680.0,1060.0 C1694.2,1018.3 1706.7,978.3 1705.0,950.0 C1703.3,921.7 1685.8,895.0 1670.0,890.0 C1654.2,885.0 1628.3,901.7 1610.0,920.0 C1591.7,938.3 1578.3,966.7 1560.0,1000.0 C1541.7,1033.3 1523.3,1080.0 1500.0,1120.0 C1476.7,1160.0 1450.0,1205.0 1420.0,1240.0 C1390.0,1275.0 1356.7,1303.3 1320.0,1330.0 C1283.3,1356.7 1236.7,1383.3 1200.0,1400.0 C1163.3,1416.7 1125.0,1425.0 1100.0,1430.0 C1075.0,1435.0 1066.7,1425.0 1050.0,1430.0 C1033.3,1435.0 1016.7,1460.0 1000.0,1460.0 C983.3,1460.0 966.7,1433.3 950.0,1430.0 C933.3,1426.7 925.0,1433.3 900.0,1440.0 C875.0,1446.7 833.3,1465.0 800.0,1470.0 C766.7,1475.0 733.3,1476.7 700.0,1470.0 C666.7,1463.3 630.0,1451.7 600.0,1430.0 C570.0,1408.3 545.0,1370.0 520.0,1340.0 C495.0,1310.0 468.3,1285.0 450.0,1250.0 C431.7,1215.0 418.3,1171.7 410.0,1130.0 C401.7,1088.3 398.3,1043.3 400.0,1000.0 C401.7,956.7 408.3,911.7 420.0,870.0 C431.7,828.3 450.0,788.3 470.0,750.0 C490.0,711.7 515.0,675.0 540.0,640.0 C565.0,605.0 593.3,575.0 620.0,540.0 C646.7,505.0 676.7,465.0 700.0,430.0 C723.3,395.0 735.0,361.7 760.0,330.0 C785.0,298.3 818.3,261.7 850.0,240.0 C881.7,218.3 925.0,209.2 950.0,200.0 C975.0,190.8 991.7,193.3 1000.0,185.0 C1008.3,176.7 1006.7,164.2 1000.0,150.0Z" fill="none" stroke="#70CDB6" stroke-width="160.0" stroke-linejoin="round"/>
<path d="M1000.0,150.0 C993.3,135.8 976.7,110.0 960.0,100.0 C943.3,90.0 926.7,90.8 900.0,90.0 C873.3,89.2 833.3,88.3 800.0,95.0 C766.7,101.7 733.3,117.5 700.0,130.0 C666.7,142.5 633.3,153.3 600.0,170.0 C566.7,186.7 530.0,206.7 500.0,230.0 C470.0,253.3 445.0,280.0 420.0,310.0 C395.0,340.0 373.3,375.0 350.0,410.0 C326.7,445.0 303.3,481.7 280.0,520.0 C256.7,558.3 231.7,596.7 210.0,640.0 C188.3,683.3 166.7,733.3 150.0,780.0 C133.3,826.7 120.0,870.0 110.0,920.0 C100.0,970.0 91.7,1028.3 90.0,1080.0 C88.3,1131.7 91.7,1180.0 100.0,1230.0 C108.3,1280.0 123.3,1335.0 140.0,1380.0 C156.7,1425.0 176.7,1463.3 200.0,1500.0 C223.3,1536.7 250.0,1568.3 280.0,1600.0 C310.0,1631.7 348.3,1663.3 380.0,1690.0 C411.7,1716.7 440.0,1740.0 470.0,1760.0 C500.0,1780.0 521.7,1793.3 560.0,1810.0 C598.3,1826.7 651.7,1851.7 700.0,1860.0 C748.3,1868.3 800.0,1866.7 850.0,1860.0 C900.0,1853.3 950.0,1840.0 1000.0,1820.0 C1050.0,1800.0 1100.0,1771.7 1150.0,1740.0 C1200.0,1708.3 1253.3,1670.0 1300.0,1630.0 C1346.7,1590.0 1390.0,1546.7 1430.0,1500.0 C1470.0,1453.3 1508.3,1400.0 1540.0,1350.0 C1571.7,1300.0 1596.7,1248.3 1620.0,1200.0 C1643.3,1151.7 1665.8,1101.7 1680.0,1060.0 C1694.2,1018.3 1706.7,978.3 1705.0,950.0 C1703.3,921.7 1685.8,895.0 1670.0,890.0 C1654.2,885.0 1628.3,901.7 1610.0,920.0 C1591.7,938.3 1578.3,966.7 1560.0,1000.0 C1541.7,1033.3 1523.3,1080.0 1500.0,1120.0 C1476.7,1160.0 1450.0,1205.0 1420.0,1240.0 C1390.0,1275.0 1356.7,1303.3 1320.0,1330.0 C1283.3,1356.7 1236.7,1383.3 1200.0,1400.0 C1163.3,1416.7 1125.0,1425.0 1100.0,1430.0 C1075.0,1435.0 1066.7,1425.0 1050.0,1430.0 C1033.3,1435.0 1016.7,1460.0 1000.0,1460.0 C983.3,1460.0 966.7,1433.3 950.0,1430.0 C933.3,1426.7 925.0,1433.3 900.0,1440.0 C875.0,1446.7 833.3,1465.0 800.0,1470.0 C766.7,1475.0 733.3,1476.7 700.0,1470.0 C666.7,1463.3 630.0,1451.7 600.0,1430.0 C570.0,1408.3 545.0,1370.0 520.0,1340.0 C495.0,1310.0 468.3,1285.0 450.0,1250.0 C431.7,1215.0 418.3,1171.7 410.0,1130.0 C401.7,1088.3 398.3,1043.3 400.0,1000.0 C401.7,956.7 408.3,911.7 420.0,870.0 C431.7,828.3 450.0,788.3 470.0,750.0 C490.0,711.7 515.0,675.0 540.0,640.0 C565.0,605.0 593.3,575.0 620.0,540.0 C646.7,505.0 676.7,465.0 700.0,430.0 C723.3,395.0 735.0,361.7 760.0,330.0 C785.0,298.3 818.3,261.7 850.0,240.0 C881.7,218.3 925.0,209.2 950.0,200.0 C975.0,190.8 991.7,193.3 1000.0,185.0 C1008.3,176.7 1006.7,164.2 1000.0,150.0Z" fill="none" stroke="#5DC9E1" stroke-width="70.0" stroke-linejoin="round"/>
</g>
<path d="M490.0,480.0 C475.0,493.3 453.3,563.3 430.0,600.0 C406.7,636.7 378.3,666.7 350.0,700.0 C321.7,733.3 285.0,758.3 260.0,800.0 C235.0,841.7 211.7,900.0 200.0,950.0 C188.3,1000.0 186.7,1050.0 190.0,1100.0 C193.3,1150.0 205.0,1203.3 220.0,1250.0 C235.0,1296.7 256.7,1341.7 280.0,1380.0 C303.3,1418.3 331.7,1448.3 360.0,1480.0 C388.3,1511.7 418.3,1543.3 450.0,1570.0 C481.7,1596.7 516.7,1621.7 550.0,1640.0 C583.3,1658.3 608.3,1668.3 650.0,1680.0 C691.7,1691.7 768.3,1713.3 800.0,1710.0 C831.7,1706.7 848.3,1676.7 840.0,1660.0 C831.7,1643.3 786.7,1626.7 750.0,1610.0 C713.3,1593.3 658.3,1581.7 620.0,1560.0 C581.7,1538.3 550.0,1506.7 520.0,1480.0 C490.0,1453.3 466.7,1430.0 440.0,1400.0 C413.3,1370.0 380.0,1333.3 360.0,1300.0 C340.0,1266.7 326.7,1241.7 320.0,1200.0 C313.3,1158.3 313.3,1100.0 320.0,1050.0 C326.7,1000.0 340.0,950.0 360.0,900.0 C380.0,850.0 416.7,796.7 440.0,750.0 C463.3,703.3 486.7,658.3 500.0,620.0 C513.3,581.7 521.7,543.3 520.0,520.0 C518.3,496.7 505.0,466.7 490.0,480.0Z" fill="#ADDB36"/>
<path d="M470.0,600.0 C465.0,596.7 445.0,653.3 420.0,680.0 C395.0,706.7 348.3,730.0 320.0,760.0 C291.7,790.0 268.3,823.3 250.0,860.0 C231.7,896.7 215.0,940.0 210.0,980.0 C205.0,1020.0 213.3,1063.3 220.0,1100.0 C226.7,1136.7 236.7,1190.0 250.0,1200.0 C263.3,1210.0 291.7,1185.0 300.0,1160.0 C308.3,1135.0 295.0,1090.0 300.0,1050.0 C305.0,1010.0 313.3,961.7 330.0,920.0 C346.7,878.3 380.0,836.7 400.0,800.0 C420.0,763.3 438.3,733.3 450.0,700.0 C461.7,666.7 475.0,603.3 470.0,600.0Z" fill="#F0BB2B"/>
<path d="M280.0,1300.0 C291.7,1288.3 326.7,1283.3 350.0,1300.0 C373.3,1316.7 398.3,1370.0 420.0,1400.0 C441.7,1430.0 473.3,1456.7 480.0,1480.0 C486.7,1503.3 473.3,1533.3 460.0,1540.0 C446.7,1546.7 421.7,1536.7 400.0,1520.0 C378.3,1503.3 350.0,1465.0 330.0,1440.0 C310.0,1415.0 288.3,1393.3 280.0,1370.0 C271.7,1346.7 268.3,1311.7 280.0,1300.0Z" fill="#F0BB2B"/>
<path d="M320.0,700.0 C331.7,683.3 365.0,660.0 380.0,660.0 C395.0,660.0 406.7,683.3 410.0,700.0 C413.3,716.7 411.7,745.0 400.0,760.0 C388.3,775.0 355.0,790.0 340.0,790.0 C325.0,790.0 313.3,775.0 310.0,760.0 C306.7,745.0 308.3,716.7 320.0,700.0Z" fill="#E92429"/>
<ellipse cx="260" cy="885" rx="30" ry="28" fill="#F05F29"/>
<ellipse cx="255" cy="1015" rx="30" ry="35" fill="#E92429"/>
<ellipse cx="350" cy="1400" rx="30" ry="40" fill="#F05F29"/>
<ellipse cx="430" cy="1525" rx="20" ry="25" fill="#E92429"/>
<ellipse cx="760" cy="1680" rx="70" ry="40" fill="#F0BB2B"/>
<path d="M520.0,760.0 C535.0,726.7 570.0,716.7 600.0,700.0 C630.0,683.3 670.0,665.0 700.0,660.0 C730.0,655.0 758.3,661.7 780.0,670.0 C801.7,678.3 825.0,695.0 830.0,710.0 C835.0,725.0 825.0,741.7 810.0,760.0 C795.0,778.3 760.0,796.7 740.0,820.0 C720.0,843.3 701.7,870.0 690.0,900.0 C678.3,930.0 668.3,966.7 670.0,1000.0 C671.7,1033.3 691.7,1075.0 700.0,1100.0 C708.3,1125.0 720.0,1128.3 720.0,1150.0 C720.0,1171.7 711.7,1208.3 700.0,1230.0 C688.3,1251.7 666.7,1276.7 650.0,1280.0 C633.3,1283.3 618.3,1271.7 600.0,1250.0 C581.7,1228.3 556.7,1185.0 540.0,1150.0 C523.3,1115.0 505.0,1081.7 500.0,1040.0 C495.0,998.3 506.7,946.7 510.0,900.0 C513.3,853.3 505.0,793.3 520.0,760.0Z" fill="#3A52B0"/>
<path d="M1220.0,770.0 C1231.7,780.0 1248.3,820.0 1250.0,850.0 C1251.7,880.0 1235.0,916.7 1230.0,950.0 C1225.0,983.3 1225.0,1016.7 1220.0,1050.0 C1215.0,1083.3 1211.7,1120.0 1200.0,1150.0 C1188.3,1180.0 1170.0,1210.0 1150.0,1230.0 C1130.0,1250.0 1108.3,1268.3 1080.0,1270.0 C1051.7,1271.7 1005.0,1258.3 980.0,1240.0 C955.0,1221.7 935.0,1190.0 930.0,1160.0 C925.0,1130.0 935.0,1093.3 950.0,1060.0 C965.0,1026.7 995.0,991.7 1020.0,960.0 C1045.0,928.3 1073.3,898.3 1100.0,870.0 C1126.7,841.7 1160.0,806.7 1180.0,790.0 C1200.0,773.3 1208.3,760.0 1220.0,770.0Z" fill="#3A52B0"/>
<path d="M1500.0,880.0 C1515.0,876.7 1528.3,900.0 1530.0,920.0 C1531.7,940.0 1521.7,973.3 1510.0,1000.0 C1498.3,1026.7 1475.0,1056.7 1460.0,1080.0 C1445.0,1103.3 1431.7,1133.3 1420.0,1140.0 C1408.3,1146.7 1393.3,1138.3 1390.0,1120.0 C1386.7,1101.7 1391.7,1060.0 1400.0,1030.0 C1408.3,1000.0 1423.3,965.0 1440.0,940.0 C1456.7,915.0 1485.0,883.3 1500.0,880.0Z" fill="#3A52B0"/>
<ellipse cx="1330" cy="685" rx="52" ry="52" fill="#FDFDFD"/></g></g>
<rect x="2008.90" y="927.20" width="25.75" height="26.60" fill="#3A4FAE"/>
<rect x="2034.06" y="927.20" width="50.91" height="26.60" fill="#4777C4"/>
<rect x="2084.37" y="927.20" width="50.91" height="26.60" fill="#5DC9E1"/>
<rect x="2134.68" y="927.20" width="50.91" height="26.60" fill="#70CDB6"/>
<rect x="2184.99" y="927.20" width="50.91" height="26.60" fill="#62C46C"/>
<rect x="2235.30" y="927.20" width="50.91" height="26.60" fill="#62C232"/>
<rect x="2285.61" y="927.20" width="50.91" height="26.60" fill="#62C232"/>
<rect x="2335.91" y="927.20" width="50.91" height="26.60" fill="#ADDB36"/>
<rect x="2386.22" y="927.20" width="50.91" height="26.60" fill="#F0BB2B"/>
<rect x="2436.53" y="927.20" width="50.91" height="26.60" fill="#F05F29"/>
<rect x="2486.84" y="927.20" width="25.16" height="26.60" fill="#E92429"/>
<text x="1968.8" y="158.8" font-size="56" font-style="italic">t</text>
<text x="1997.1" y="158.8" font-size="56">=</text>
<text x="2043.7" y="158.8" font-size="56">5</text>
<text x="2081.0" y="158.8" font-size="56">h</text>
<text x="2206.2" y="152.0" font-size="56">90ºE</text>
<text x="2595.6" y="172.8" font-size="56" letter-spacing="2.6">(c)</text>
<text x="1844.6" y="526.8" font-size="56">0º</text>
<text x="2613.4" y="526.9" font-size="56">180º</text>
<text x="2207.2" y="913.0" font-size="56">90ºW</text>
<text x="1972.3" y="998.0" font-size="54">−0.24</text>
<text x="2140.1" y="998.0" font-size="54">0.57</text>
<text x="2292.1" y="998.0" font-size="54">0.99</text>
<text x="2444.1" y="998.0" font-size="54">1.36</text>
<text x="2128.0" y="1052.9" font-size="54" letter-spacing="0.8">Density / cm<tspan font-size="36" dy="-17">−3</tspan></text>
</g>
<g id="pd">
<clipPath id="cld"><ellipse cx="455.7" cy="1497.3" rx="353.9" ry="352.7"/></clipPath>
<ellipse cx="455.7" cy="1497.3" rx="353.9" ry="352.7" fill="#4677C5"/>
<g clip-path="url(#cld)"><g transform="translate(300,1400) scale(0.133032)"><clipPath id="band24"><path d="M1050.0,210.0 C1048.3,195.0 1025.0,158.3 1000.0,150.0 C975.0,141.7 933.3,161.7 900.0,160.0 C866.7,158.3 833.3,141.7 800.0,140.0 C766.7,138.3 733.3,135.0 700.0,150.0 C666.7,165.0 633.3,205.0 600.0,230.0 C566.7,255.0 530.0,268.3 500.0,300.0 C470.0,331.7 440.0,378.3 420.0,420.0 C400.0,461.7 395.0,506.7 380.0,550.0 C365.0,593.3 350.0,645.0 330.0,680.0 C310.0,715.0 276.7,723.3 260.0,760.0 C243.3,796.7 238.3,851.7 230.0,900.0 C221.7,948.3 210.0,1000.0 210.0,1050.0 C210.0,1100.0 215.0,1153.3 230.0,1200.0 C245.0,1246.7 271.7,1288.3 300.0,1330.0 C328.3,1371.7 366.7,1416.7 400.0,1450.0 C433.3,1483.3 466.7,1508.3 500.0,1530.0 C533.3,1551.7 558.3,1565.0 600.0,1580.0 C641.7,1595.0 700.0,1606.7 750.0,1620.0 C800.0,1633.3 866.7,1655.0 900.0,1660.0 C933.3,1665.0 925.0,1658.3 950.0,1650.0 C975.0,1641.7 1008.3,1631.7 1050.0,1610.0 C1091.7,1588.3 1153.3,1555.0 1200.0,1520.0 C1246.7,1485.0 1288.3,1441.7 1330.0,1400.0 C1371.7,1358.3 1413.3,1311.7 1450.0,1270.0 C1486.7,1228.3 1521.7,1186.7 1550.0,1150.0 C1578.3,1113.3 1625.0,1061.7 1620.0,1050.0 C1615.0,1038.3 1548.3,1071.7 1520.0,1080.0 C1491.7,1088.3 1478.3,1080.0 1450.0,1100.0 C1421.7,1120.0 1383.3,1168.3 1350.0,1200.0 C1316.7,1231.7 1283.3,1266.7 1250.0,1290.0 C1216.7,1313.3 1183.3,1323.3 1150.0,1340.0 C1116.7,1356.7 1083.3,1376.7 1050.0,1390.0 C1016.7,1403.3 991.7,1415.0 950.0,1420.0 C908.3,1425.0 845.0,1428.3 800.0,1420.0 C755.0,1411.7 716.7,1390.0 680.0,1370.0 C643.3,1350.0 610.0,1328.3 580.0,1300.0 C550.0,1271.7 521.7,1233.3 500.0,1200.0 C478.3,1166.7 460.0,1141.7 450.0,1100.0 C440.0,1058.3 436.7,996.7 440.0,950.0 C443.3,903.3 456.7,861.7 470.0,820.0 C483.3,778.3 506.7,740.0 520.0,700.0 C533.3,660.0 536.7,621.7 550.0,580.0 C563.3,538.3 583.3,485.0 600.0,450.0 C616.7,415.0 625.0,396.7 650.0,370.0 C675.0,343.3 716.7,311.7 750.0,290.0 C783.3,268.3 816.7,250.0 850.0,240.0 C883.3,230.0 923.3,230.0 950.0,230.0 C976.7,230.0 993.3,243.3 1010.0,240.0 C1026.7,236.7 1051.7,225.0 1050.0,210.0Z"/></clipPath>
<g clip-path="url(#band24)">
<path d="M1050.0,210.0 C1048.3,195.0 1025.0,158.3 1000.0,150.0 C975.0,141.7 933.3,161.7 900.0,160.0 C866.7,158.3 833.3,141.7 800.0,140.0 C766.7,138.3 733.3,135.0 700.0,150.0 C666.7,165.0 633.3,205.0 600.0,230.0 C566.7,255.0 530.0,268.3 500.0,300.0 C470.0,331.7 440.0,378.3 420.0,420.0 C400.0,461.7 395.0,506.7 380.0,550.0 C365.0,593.3 350.0,645.0 330.0,680.0 C310.0,715.0 276.7,723.3 260.0,760.0 C243.3,796.7 238.3,851.7 230.0,900.0 C221.7,948.3 210.0,1000.0 210.0,1050.0 C210.0,1100.0 215.0,1153.3 230.0,1200.0 C245.0,1246.7 271.7,1288.3 300.0,1330.0 C328.3,1371.7 366.7,1416.7 400.0,1450.0 C433.3,1483.3 466.7,1508.3 500.0,1530.0 C533.3,1551.7 558.3,1565.0 600.0,1580.0 C641.7,1595.0 700.0,1606.7 750.0,1620.0 C800.0,1633.3 866.7,1655.0 900.0,1660.0 C933.3,1665.0 925.0,1658.3 950.0,1650.0 C975.0,1641.7 1008.3,1631.7 1050.0,1610.0 C1091.7,1588.3 1153.3,1555.0 1200.0,1520.0 C1246.7,1485.0 1288.3,1441.7 1330.0,1400.0 C1371.7,1358.3 1413.3,1311.7 1450.0,1270.0 C1486.7,1228.3 1521.7,1186.7 1550.0,1150.0 C1578.3,1113.3 1625.0,1061.7 1620.0,1050.0 C1615.0,1038.3 1548.3,1071.7 1520.0,1080.0 C1491.7,1088.3 1478.3,1080.0 1450.0,1100.0 C1421.7,1120.0 1383.3,1168.3 1350.0,1200.0 C1316.7,1231.7 1283.3,1266.7 1250.0,1290.0 C1216.7,1313.3 1183.3,1323.3 1150.0,1340.0 C1116.7,1356.7 1083.3,1376.7 1050.0,1390.0 C1016.7,1403.3 991.7,1415.0 950.0,1420.0 C908.3,1425.0 845.0,1428.3 800.0,1420.0 C755.0,1411.7 716.7,1390.0 680.0,1370.0 C643.3,1350.0 610.0,1328.3 580.0,1300.0 C550.0,1271.7 521.7,1233.3 500.0,1200.0 C478.3,1166.7 460.0,1141.7 450.0,1100.0 C440.0,1058.3 436.7,996.7 440.0,950.0 C443.3,903.3 456.7,861.7 470.0,820.0 C483.3,778.3 506.7,740.0 520.0,700.0 C533.3,660.0 536.7,621.7 550.0,580.0 C563.3,538.3 583.3,485.0 600.0,450.0 C616.7,415.0 625.0,396.7 650.0,370.0 C675.0,343.3 716.7,311.7 750.0,290.0 C783.3,268.3 816.7,250.0 850.0,240.0 C883.3,230.0 923.3,230.0 950.0,230.0 C976.7,230.0 993.3,243.3 1010.0,240.0 C1026.7,236.7 1051.7,225.0 1050.0,210.0Z" fill="#62C232"/>
<path d="M1050.0,210.0 C1048.3,195.0 1025.0,158.3 1000.0,150.0 C975.0,141.7 933.3,161.7 900.0,160.0 C866.7,158.3 833.3,141.7 800.0,140.0 C766.7,138.3 733.3,135.0 700.0,150.0 C666.7,165.0 633.3,205.0 600.0,230.0 C566.7,255.0 530.0,268.3 500.0,300.0 C470.0,331.7 440.0,378.3 420.0,420.0 C400.0,461.7 395.0,506.7 380.0,550.0 C365.0,593.3 350.0,645.0 330.0,680.0 C310.0,715.0 276.7,723.3 260.0,760.0 C243.3,796.7 238.3,851.7 230.0,900.0 C221.7,948.3 210.0,1000.0 210.0,1050.0 C210.0,1100.0 215.0,1153.3 230.0,1200.0 C245.0,1246.7 271.7,1288.3 300.0,1330.0 C328.3,1371.7 366.7,1416.7 400.0,1450.0 C433.3,1483.3 466.7,1508.3 500.0,1530.0 C533.3,1551.7 558.3,1565.0 600.0,1580.0 C641.7,1595.0 700.0,1606.7 750.0,1620.0 C800.0,1633.3 866.7,1655.0 900.0,1660.0 C933.3,1665.0 925.0,1658.3 950.0,1650.0 C975.0,1641.7 1008.3,1631.7 1050.0,1610.0 C1091.7,1588.3 1153.3,1555.0 1200.0,1520.0 C1246.7,1485.0 1288.3,1441.7 1330.0,1400.0 C1371.7,1358.3 1413.3,1311.7 1450.0,1270.0 C1486.7,1228.3 1521.7,1186.7 1550.0,1150.0 C1578.3,1113.3 1625.0,1061.7 1620.0,1050.0 C1615.0,1038.3 1548.3,1071.7 1520.0,1080.0 C1491.7,1088.3 1478.3,1080.0 1450.0,1100.0 C1421.7,1120.0 1383.3,1168.3 1350.0,1200.0 C1316.7,1231.7 1283.3,1266.7 1250.0,1290.0 C1216.7,1313.3 1183.3,1323.3 1150.0,1340.0 C1116.7,1356.7 1083.3,1376.7 1050.0,1390.0 C1016.7,1403.3 991.7,1415.0 950.0,1420.0 C908.3,1425.0 845.0,1428.3 800.0,1420.0 C755.0,1411.7 716.7,1390.0 680.0,1370.0 C643.3,1350.0 610.0,1328.3 580.0,1300.0 C550.0,1271.7 521.7,1233.3 500.0,1200.0 C478.3,1166.7 460.0,1141.7 450.0,1100.0 C440.0,1058.3 436.7,996.7 440.0,950.0 C443.3,903.3 456.7,861.7 470.0,820.0 C483.3,778.3 506.7,740.0 520.0,700.0 C533.3,660.0 536.7,621.7 550.0,580.0 C563.3,538.3 583.3,485.0 600.0,450.0 C616.7,415.0 625.0,396.7 650.0,370.0 C675.0,343.3 716.7,311.7 750.0,290.0 C783.3,268.3 816.7,250.0 850.0,240.0 C883.3,230.0 923.3,230.0 950.0,230.0 C976.7,230.0 993.3,243.3 1010.0,240.0 C1026.7,236.7 1051.7,225.0 1050.0,210.0Z" fill="none" stroke="#70CDB6" stroke-width="80.0" stroke-linejoin="round"/>
<path d="M1050.0,210.0 C1048.3,195.0 1025.0,158.3 1000.0,150.0 C975.0,141.7 933.3,161.7 900.0,160.0 C866.7,158.3 833.3,141.7 800.0,140.0 C766.7,138.3 733.3,135.0 700.0,150.0 C666.7,165.0 633.3,205.0 600.0,230.0 C566.7,255.0 530.0,268.3 500.0,300.0 C470.0,331.7 440.0,378.3 420.0,420.0 C400.0,461.7 395.0,506.7 380.0,550.0 C365.0,593.3 350.0,645.0 330.0,680.0 C310.0,715.0 276.7,723.3 260.0,760.0 C243.3,796.7 238.3,851.7 230.0,900.0 C221.7,948.3 210.0,1000.0 210.0,1050.0 C210.0,1100.0 215.0,1153.3 230.0,1200.0 C245.0,1246.7 271.7,1288.3 300.0,1330.0 C328.3,1371.7 366.7,1416.7 400.0,1450.0 C433.3,1483.3 466.7,1508.3 500.0,1530.0 C533.3,1551.7 558.3,1565.0 600.0,1580.0 C641.7,1595.0 700.0,1606.7 750.0,1620.0 C800.0,1633.3 866.7,1655.0 900.0,1660.0 C933.3,1665.0 925.0,1658.3 950.0,1650.0 C975.0,1641.7 1008.3,1631.7 1050.0,1610.0 C1091.7,1588.3 1153.3,1555.0 1200.0,1520.0 C1246.7,1485.0 1288.3,1441.7 1330.0,1400.0 C1371.7,1358.3 1413.3,1311.7 1450.0,1270.0 C1486.7,1228.3 1521.7,1186.7 1550.0,1150.0 C1578.3,1113.3 1625.0,1061.7 1620.0,1050.0 C1615.0,1038.3 1548.3,1071.7 1520.0,1080.0 C1491.7,1088.3 1478.3,1080.0 1450.0,1100.0 C1421.7,1120.0 1383.3,1168.3 1350.0,1200.0 C1316.7,1231.7 1283.3,1266.7 1250.0,1290.0 C1216.7,1313.3 1183.3,1323.3 1150.0,1340.0 C1116.7,1356.7 1083.3,1376.7 1050.0,1390.0 C1016.7,1403.3 991.7,1415.0 950.0,1420.0 C908.3,1425.0 845.0,1428.3 800.0,1420.0 C755.0,1411.7 716.7,1390.0 680.0,1370.0 C643.3,1350.0 610.0,1328.3 580.0,1300.0 C550.0,1271.7 521.7,1233.3 500.0,1200.0 C478.3,1166.7 460.0,1141.7 450.0,1100.0 C440.0,1058.3 436.7,996.7 440.0,950.0 C443.3,903.3 456.7,861.7 470.0,820.0 C483.3,778.3 506.7,740.0 520.0,700.0 C533.3,660.0 536.7,621.7 550.0,580.0 C563.3,538.3 583.3,485.0 600.0,450.0 C616.7,415.0 625.0,396.7 650.0,370.0 C675.0,343.3 716.7,311.7 750.0,290.0 C783.3,268.3 816.7,250.0 850.0,240.0 C883.3,230.0 923.3,230.0 950.0,230.0 C976.7,230.0 993.3,243.3 1010.0,240.0 C1026.7,236.7 1051.7,225.0 1050.0,210.0Z" fill="none" stroke="#5DC9E1" stroke-width="56.0" stroke-linejoin="round"/>
</g>
<path d="M440.0,600.0 C430.0,608.3 418.3,666.7 400.0,700.0 C381.7,733.3 348.3,766.7 330.0,800.0 C311.7,833.3 295.0,858.3 290.0,900.0 C285.0,941.7 290.0,1000.0 300.0,1050.0 C310.0,1100.0 330.0,1153.3 350.0,1200.0 C370.0,1246.7 391.7,1293.3 420.0,1330.0 C448.3,1366.7 481.7,1391.7 520.0,1420.0 C558.3,1448.3 603.3,1478.3 650.0,1500.0 C696.7,1521.7 763.3,1540.0 800.0,1550.0 C836.7,1560.0 856.7,1566.7 870.0,1560.0 C883.3,1553.3 891.7,1523.3 880.0,1510.0 C868.3,1496.7 838.3,1491.7 800.0,1480.0 C761.7,1468.3 696.7,1460.0 650.0,1440.0 C603.3,1420.0 556.7,1391.7 520.0,1360.0 C483.3,1328.3 453.3,1290.0 430.0,1250.0 C406.7,1210.0 391.7,1161.7 380.0,1120.0 C368.3,1078.3 360.0,1040.0 360.0,1000.0 C360.0,960.0 370.0,916.7 380.0,880.0 C390.0,843.3 406.7,818.3 420.0,780.0 C433.3,741.7 456.7,680.0 460.0,650.0 C463.3,620.0 450.0,591.7 440.0,600.0Z" fill="#ADDB36"/>
<path d="M400.0,720.0 C386.7,720.0 346.7,773.3 330.0,800.0 C313.3,826.7 303.3,850.0 300.0,880.0 C296.7,910.0 303.3,946.7 310.0,980.0 C316.7,1013.3 330.0,1056.7 340.0,1080.0 C350.0,1103.3 361.7,1126.7 370.0,1120.0 C378.3,1113.3 386.7,1073.3 390.0,1040.0 C393.3,1006.7 386.7,960.0 390.0,920.0 C393.3,880.0 408.3,833.3 410.0,800.0 C411.7,766.7 413.3,720.0 400.0,720.0Z" fill="#F0BB2B"/>
<ellipse cx="350" cy="870" rx="42" ry="68" fill="#E92429" transform="rotate(10 350 870)"/>
<ellipse cx="470" cy="1320" rx="28" ry="26" fill="#F0BB2B"/>
<path d="M530.0,830.0 C543.3,806.7 583.3,798.3 600.0,810.0 C616.7,821.7 623.3,868.3 630.0,900.0 C636.7,931.7 635.0,970.0 640.0,1000.0 C645.0,1030.0 658.3,1055.0 660.0,1080.0 C661.7,1105.0 660.0,1133.3 650.0,1150.0 C640.0,1166.7 615.0,1183.3 600.0,1180.0 C585.0,1176.7 571.7,1151.7 560.0,1130.0 C548.3,1108.3 536.7,1080.0 530.0,1050.0 C523.3,1020.0 520.0,986.7 520.0,950.0 C520.0,913.3 516.7,853.3 530.0,830.0Z" fill="#3A52B0"/>
<ellipse cx="785" cy="725" rx="30" ry="22" fill="#3A52B0"/>
<ellipse cx="880" cy="950" rx="22" ry="12" fill="#3A52B0" transform="rotate(40 880 950)"/>
<ellipse cx="940" cy="1010" rx="35" ry="14" fill="#3A52B0" transform="rotate(50 940 1010)"/>
<ellipse cx="1175" cy="275" rx="38" ry="12" fill="#5DC9E1" transform="rotate(15 1175 275)"/>
<ellipse cx="1170" cy="730" rx="14" ry="14" fill="#5DC9E1"/></g><line x1="357" y1="1695" x2="367" y2="1680" stroke="#5DC9E1" stroke-width="3"/></g>
<rect x="212.90" y="1905.50" width="25.92" height="29.30" fill="#3A4FAE"/>
<rect x="238.22" y="1905.50" width="51.24" height="29.30" fill="#4777C4"/>
<rect x="288.86" y="1905.50" width="51.24" height="29.30" fill="#5DC9E1"/>
<rect x="339.50" y="1905.50" width="51.24" height="29.30" fill="#70CDB6"/>
<rect x="390.14" y="1905.50" width="51.24" height="29.30" fill="#62C46C"/>
<rect x="440.78" y="1905.50" width="51.24" height="29.30" fill="#62C232"/>
<rect x="491.42" y="1905.50" width="51.24" height="29.30" fill="#62C232"/>
<rect x="542.06" y="1905.50" width="51.24" height="29.30" fill="#ADDB36"/>
<rect x="592.70" y="1905.50" width="51.24" height="29.30" fill="#F0BB2B"/>
<rect x="643.34" y="1905.50" width="51.24" height="29.30" fill="#F05F29"/>
<rect x="693.98" y="1905.50" width="25.32" height="29.30" fill="#E92429"/>
<text x="42.7" y="1179.0" font-size="56" font-style="italic">t</text>
<text x="70.2" y="1179.0" font-size="56">=</text>
<text x="116.7" y="1179.0" font-size="56">20</text>
<text x="183.3" y="1179.0" font-size="56">h</text>
<text x="405.2" y="1134.0" font-size="56">90ºE</text>
<text x="794.4" y="1154.1" font-size="56" letter-spacing="2.6">(d)</text>
<text x="43.9" y="1509.2" font-size="56">0º</text>
<text x="813.1" y="1508.9" font-size="56">180º</text>
<text x="407.2" y="1894.0" font-size="56">90ºW</text>
<text x="171.1" y="1982.0" font-size="54">−0.30</text>
<text x="335.8" y="1982.0" font-size="54">0.29</text>
<text x="487.4" y="1982.0" font-size="54">0.76</text>
<text x="641.3" y="1982.0" font-size="54">1.28</text>
<text x="312.6" y="2037.0" font-size="54" letter-spacing="0.8">Density / cm<tspan font-size="36" dy="-17">−3</tspan></text>
</g>
<g id="pe">
<clipPath id="cle"><ellipse cx="1355.4" cy="1497.3" rx="352.8" ry="352.7"/></clipPath>
<ellipse cx="1355.4" cy="1497.3" rx="352.8" ry="352.7" fill="#4677C5"/>
<g clip-path="url(#cle)"><g transform="translate(1090,1330) scale(0.205086)"><clipPath id="band30"><path d="M700.0,90.0 C716.7,90.0 758.3,96.7 780.0,110.0 C801.7,123.3 826.7,150.0 830.0,170.0 C833.3,190.0 818.3,215.0 800.0,230.0 C781.7,245.0 746.7,248.3 720.0,260.0 C693.3,271.7 660.0,283.3 640.0,300.0 C620.0,316.7 616.7,341.7 600.0,360.0 C583.3,378.3 555.0,390.0 540.0,410.0 C525.0,430.0 518.3,448.3 510.0,480.0 C501.7,511.7 500.0,563.3 490.0,600.0 C480.0,636.7 461.7,666.7 450.0,700.0 C438.3,733.3 428.3,766.7 420.0,800.0 C411.7,833.3 405.0,866.7 400.0,900.0 C395.0,933.3 393.3,966.7 390.0,1000.0 C386.7,1033.3 381.7,1066.7 380.0,1100.0 C378.3,1133.3 373.3,1166.7 380.0,1200.0 C386.7,1233.3 403.3,1266.7 420.0,1300.0 C436.7,1333.3 460.0,1370.0 480.0,1400.0 C500.0,1430.0 520.0,1453.3 540.0,1480.0 C560.0,1506.7 573.3,1536.7 600.0,1560.0 C626.7,1583.3 666.7,1603.3 700.0,1620.0 C733.3,1636.7 766.7,1651.7 800.0,1660.0 C833.3,1668.3 866.7,1669.2 900.0,1670.0 C933.3,1670.8 966.7,1666.7 1000.0,1665.0 C1033.3,1663.3 1070.0,1657.5 1100.0,1660.0 C1130.0,1662.5 1155.0,1686.7 1180.0,1680.0 C1205.0,1673.3 1221.7,1640.0 1250.0,1620.0 C1278.3,1600.0 1316.7,1581.7 1350.0,1560.0 C1383.3,1538.3 1416.7,1511.7 1450.0,1490.0 C1483.3,1468.3 1516.7,1448.3 1550.0,1430.0 C1583.3,1411.7 1618.3,1396.7 1650.0,1380.0 C1681.7,1363.3 1716.7,1333.3 1740.0,1330.0 C1763.3,1326.7 1796.7,1345.0 1790.0,1360.0 C1783.3,1375.0 1731.7,1398.3 1700.0,1420.0 C1668.3,1441.7 1633.3,1465.0 1600.0,1490.0 C1566.7,1515.0 1533.3,1545.0 1500.0,1570.0 C1466.7,1595.0 1433.3,1618.3 1400.0,1640.0 C1366.7,1661.7 1333.3,1678.3 1300.0,1700.0 C1266.7,1721.7 1225.0,1748.3 1200.0,1770.0 C1175.0,1791.7 1183.3,1811.7 1150.0,1830.0 C1116.7,1848.3 1041.7,1866.7 1000.0,1880.0 C958.3,1893.3 933.3,1906.7 900.0,1910.0 C866.7,1913.3 841.7,1910.0 800.0,1900.0 C758.3,1890.0 700.0,1873.3 650.0,1850.0 C600.0,1826.7 545.0,1793.3 500.0,1760.0 C455.0,1726.7 416.7,1690.0 380.0,1650.0 C343.3,1610.0 310.0,1565.0 280.0,1520.0 C250.0,1475.0 225.0,1430.0 200.0,1380.0 C175.0,1330.0 145.0,1275.0 130.0,1220.0 C115.0,1165.0 113.3,1098.3 110.0,1050.0 C106.7,1001.7 103.3,963.3 110.0,930.0 C116.7,896.7 130.0,880.0 150.0,850.0 C170.0,820.0 201.7,783.3 230.0,750.0 C258.3,716.7 298.3,688.3 320.0,650.0 C341.7,611.7 351.7,556.7 360.0,520.0 C368.3,483.3 360.0,456.7 370.0,430.0 C380.0,403.3 403.3,383.3 420.0,360.0 C436.7,336.7 448.3,311.7 470.0,290.0 C491.7,268.3 521.7,248.3 550.0,230.0 C578.3,211.7 618.3,200.0 640.0,180.0 C661.7,160.0 670.0,125.0 680.0,110.0 C690.0,95.0 683.3,90.0 700.0,90.0Z"/></clipPath>
<g clip-path="url(#band30)">
<path d="M700.0,90.0 C716.7,90.0 758.3,96.7 780.0,110.0 C801.7,123.3 826.7,150.0 830.0,170.0 C833.3,190.0 818.3,215.0 800.0,230.0 C781.7,245.0 746.7,248.3 720.0,260.0 C693.3,271.7 660.0,283.3 640.0,300.0 C620.0,316.7 616.7,341.7 600.0,360.0 C583.3,378.3 555.0,390.0 540.0,410.0 C525.0,430.0 518.3,448.3 510.0,480.0 C501.7,511.7 500.0,563.3 490.0,600.0 C480.0,636.7 461.7,666.7 450.0,700.0 C438.3,733.3 428.3,766.7 420.0,800.0 C411.7,833.3 405.0,866.7 400.0,900.0 C395.0,933.3 393.3,966.7 390.0,1000.0 C386.7,1033.3 381.7,1066.7 380.0,1100.0 C378.3,1133.3 373.3,1166.7 380.0,1200.0 C386.7,1233.3 403.3,1266.7 420.0,1300.0 C436.7,1333.3 460.0,1370.0 480.0,1400.0 C500.0,1430.0 520.0,1453.3 540.0,1480.0 C560.0,1506.7 573.3,1536.7 600.0,1560.0 C626.7,1583.3 666.7,1603.3 700.0,1620.0 C733.3,1636.7 766.7,1651.7 800.0,1660.0 C833.3,1668.3 866.7,1669.2 900.0,1670.0 C933.3,1670.8 966.7,1666.7 1000.0,1665.0 C1033.3,1663.3 1070.0,1657.5 1100.0,1660.0 C1130.0,1662.5 1155.0,1686.7 1180.0,1680.0 C1205.0,1673.3 1221.7,1640.0 1250.0,1620.0 C1278.3,1600.0 1316.7,1581.7 1350.0,1560.0 C1383.3,1538.3 1416.7,1511.7 1450.0,1490.0 C1483.3,1468.3 1516.7,1448.3 1550.0,1430.0 C1583.3,1411.7 1618.3,1396.7 1650.0,1380.0 C1681.7,1363.3 1716.7,1333.3 1740.0,1330.0 C1763.3,1326.7 1796.7,1345.0 1790.0,1360.0 C1783.3,1375.0 1731.7,1398.3 1700.0,1420.0 C1668.3,1441.7 1633.3,1465.0 1600.0,1490.0 C1566.7,1515.0 1533.3,1545.0 1500.0,1570.0 C1466.7,1595.0 1433.3,1618.3 1400.0,1640.0 C1366.7,1661.7 1333.3,1678.3 1300.0,1700.0 C1266.7,1721.7 1225.0,1748.3 1200.0,1770.0 C1175.0,1791.7 1183.3,1811.7 1150.0,1830.0 C1116.7,1848.3 1041.7,1866.7 1000.0,1880.0 C958.3,1893.3 933.3,1906.7 900.0,1910.0 C866.7,1913.3 841.7,1910.0 800.0,1900.0 C758.3,1890.0 700.0,1873.3 650.0,1850.0 C600.0,1826.7 545.0,1793.3 500.0,1760.0 C455.0,1726.7 416.7,1690.0 380.0,1650.0 C343.3,1610.0 310.0,1565.0 280.0,1520.0 C250.0,1475.0 225.0,1430.0 200.0,1380.0 C175.0,1330.0 145.0,1275.0 130.0,1220.0 C115.0,1165.0 113.3,1098.3 110.0,1050.0 C106.7,1001.7 103.3,963.3 110.0,930.0 C116.7,896.7 130.0,880.0 150.0,850.0 C170.0,820.0 201.7,783.3 230.0,750.0 C258.3,716.7 298.3,688.3 320.0,650.0 C341.7,611.7 351.7,556.7 360.0,520.0 C368.3,483.3 360.0,456.7 370.0,430.0 C380.0,403.3 403.3,383.3 420.0,360.0 C436.7,336.7 448.3,311.7 470.0,290.0 C491.7,268.3 521.7,248.3 550.0,230.0 C578.3,211.7 618.3,200.0 640.0,180.0 C661.7,160.0 670.0,125.0 680.0,110.0 C690.0,95.0 683.3,90.0 700.0,90.0Z" fill="#62C232"/>
<path d="M700.0,90.0 C716.7,90.0 758.3,96.7 780.0,110.0 C801.7,123.3 826.7,150.0 830.0,170.0 C833.3,190.0 818.3,215.0 800.0,230.0 C781.7,245.0 746.7,248.3 720.0,260.0 C693.3,271.7 660.0,283.3 640.0,300.0 C620.0,316.7 616.7,341.7 600.0,360.0 C583.3,378.3 555.0,390.0 540.0,410.0 C525.0,430.0 518.3,448.3 510.0,480.0 C501.7,511.7 500.0,563.3 490.0,600.0 C480.0,636.7 461.7,666.7 450.0,700.0 C438.3,733.3 428.3,766.7 420.0,800.0 C411.7,833.3 405.0,866.7 400.0,900.0 C395.0,933.3 393.3,966.7 390.0,1000.0 C386.7,1033.3 381.7,1066.7 380.0,1100.0 C378.3,1133.3 373.3,1166.7 380.0,1200.0 C386.7,1233.3 403.3,1266.7 420.0,1300.0 C436.7,1333.3 460.0,1370.0 480.0,1400.0 C500.0,1430.0 520.0,1453.3 540.0,1480.0 C560.0,1506.7 573.3,1536.7 600.0,1560.0 C626.7,1583.3 666.7,1603.3 700.0,1620.0 C733.3,1636.7 766.7,1651.7 800.0,1660.0 C833.3,1668.3 866.7,1669.2 900.0,1670.0 C933.3,1670.8 966.7,1666.7 1000.0,1665.0 C1033.3,1663.3 1070.0,1657.5 1100.0,1660.0 C1130.0,1662.5 1155.0,1686.7 1180.0,1680.0 C1205.0,1673.3 1221.7,1640.0 1250.0,1620.0 C1278.3,1600.0 1316.7,1581.7 1350.0,1560.0 C1383.3,1538.3 1416.7,1511.7 1450.0,1490.0 C1483.3,1468.3 1516.7,1448.3 1550.0,1430.0 C1583.3,1411.7 1618.3,1396.7 1650.0,1380.0 C1681.7,1363.3 1716.7,1333.3 1740.0,1330.0 C1763.3,1326.7 1796.7,1345.0 1790.0,1360.0 C1783.3,1375.0 1731.7,1398.3 1700.0,1420.0 C1668.3,1441.7 1633.3,1465.0 1600.0,1490.0 C1566.7,1515.0 1533.3,1545.0 1500.0,1570.0 C1466.7,1595.0 1433.3,1618.3 1400.0,1640.0 C1366.7,1661.7 1333.3,1678.3 1300.0,1700.0 C1266.7,1721.7 1225.0,1748.3 1200.0,1770.0 C1175.0,1791.7 1183.3,1811.7 1150.0,1830.0 C1116.7,1848.3 1041.7,1866.7 1000.0,1880.0 C958.3,1893.3 933.3,1906.7 900.0,1910.0 C866.7,1913.3 841.7,1910.0 800.0,1900.0 C758.3,1890.0 700.0,1873.3 650.0,1850.0 C600.0,1826.7 545.0,1793.3 500.0,1760.0 C455.0,1726.7 416.7,1690.0 380.0,1650.0 C343.3,1610.0 310.0,1565.0 280.0,1520.0 C250.0,1475.0 225.0,1430.0 200.0,1380.0 C175.0,1330.0 145.0,1275.0 130.0,1220.0 C115.0,1165.0 113.3,1098.3 110.0,1050.0 C106.7,1001.7 103.3,963.3 110.0,930.0 C116.7,896.7 130.0,880.0 150.0,850.0 C170.0,820.0 201.7,783.3 230.0,750.0 C258.3,716.7 298.3,688.3 320.0,650.0 C341.7,611.7 351.7,556.7 360.0,520.0 C368.3,483.3 360.0,456.7 370.0,430.0 C380.0,403.3 403.3,383.3 420.0,360.0 C436.7,336.7 448.3,311.7 470.0,290.0 C491.7,268.3 521.7,248.3 550.0,230.0 C578.3,211.7 618.3,200.0 640.0,180.0 C661.7,160.0 670.0,125.0 680.0,110.0 C690.0,95.0 683.3,90.0 700.0,90.0Z" fill="none" stroke="#70CDB6" stroke-width="76.0" stroke-linejoin="round"/>
<path d="M700.0,90.0 C716.7,90.0 758.3,96.7 780.0,110.0 C801.7,123.3 826.7,150.0 830.0,170.0 C833.3,190.0 818.3,215.0 800.0,230.0 C781.7,245.0 746.7,248.3 720.0,260.0 C693.3,271.7 660.0,283.3 640.0,300.0 C620.0,316.7 616.7,341.7 600.0,360.0 C583.3,378.3 555.0,390.0 540.0,410.0 C525.0,430.0 518.3,448.3 510.0,480.0 C501.7,511.7 500.0,563.3 490.0,600.0 C480.0,636.7 461.7,666.7 450.0,700.0 C438.3,733.3 428.3,766.7 420.0,800.0 C411.7,833.3 405.0,866.7 400.0,900.0 C395.0,933.3 393.3,966.7 390.0,1000.0 C386.7,1033.3 381.7,1066.7 380.0,1100.0 C378.3,1133.3 373.3,1166.7 380.0,1200.0 C386.7,1233.3 403.3,1266.7 420.0,1300.0 C436.7,1333.3 460.0,1370.0 480.0,1400.0 C500.0,1430.0 520.0,1453.3 540.0,1480.0 C560.0,1506.7 573.3,1536.7 600.0,1560.0 C626.7,1583.3 666.7,1603.3 700.0,1620.0 C733.3,1636.7 766.7,1651.7 800.0,1660.0 C833.3,1668.3 866.7,1669.2 900.0,1670.0 C933.3,1670.8 966.7,1666.7 1000.0,1665.0 C1033.3,1663.3 1070.0,1657.5 1100.0,1660.0 C1130.0,1662.5 1155.0,1686.7 1180.0,1680.0 C1205.0,1673.3 1221.7,1640.0 1250.0,1620.0 C1278.3,1600.0 1316.7,1581.7 1350.0,1560.0 C1383.3,1538.3 1416.7,1511.7 1450.0,1490.0 C1483.3,1468.3 1516.7,1448.3 1550.0,1430.0 C1583.3,1411.7 1618.3,1396.7 1650.0,1380.0 C1681.7,1363.3 1716.7,1333.3 1740.0,1330.0 C1763.3,1326.7 1796.7,1345.0 1790.0,1360.0 C1783.3,1375.0 1731.7,1398.3 1700.0,1420.0 C1668.3,1441.7 1633.3,1465.0 1600.0,1490.0 C1566.7,1515.0 1533.3,1545.0 1500.0,1570.0 C1466.7,1595.0 1433.3,1618.3 1400.0,1640.0 C1366.7,1661.7 1333.3,1678.3 1300.0,1700.0 C1266.7,1721.7 1225.0,1748.3 1200.0,1770.0 C1175.0,1791.7 1183.3,1811.7 1150.0,1830.0 C1116.7,1848.3 1041.7,1866.7 1000.0,1880.0 C958.3,1893.3 933.3,1906.7 900.0,1910.0 C866.7,1913.3 841.7,1910.0 800.0,1900.0 C758.3,1890.0 700.0,1873.3 650.0,1850.0 C600.0,1826.7 545.0,1793.3 500.0,1760.0 C455.0,1726.7 416.7,1690.0 380.0,1650.0 C343.3,1610.0 310.0,1565.0 280.0,1520.0 C250.0,1475.0 225.0,1430.0 200.0,1380.0 C175.0,1330.0 145.0,1275.0 130.0,1220.0 C115.0,1165.0 113.3,1098.3 110.0,1050.0 C106.7,1001.7 103.3,963.3 110.0,930.0 C116.7,896.7 130.0,880.0 150.0,850.0 C170.0,820.0 201.7,783.3 230.0,750.0 C258.3,716.7 298.3,688.3 320.0,650.0 C341.7,611.7 351.7,556.7 360.0,520.0 C368.3,483.3 360.0,456.7 370.0,430.0 C380.0,403.3 403.3,383.3 420.0,360.0 C436.7,336.7 448.3,311.7 470.0,290.0 C491.7,268.3 521.7,248.3 550.0,230.0 C578.3,211.7 618.3,200.0 640.0,180.0 C661.7,160.0 670.0,125.0 680.0,110.0 C690.0,95.0 683.3,90.0 700.0,90.0Z" fill="none" stroke="#5DC9E1" stroke-width="56.0" stroke-linejoin="round"/>
</g>
<path d="M700.0,80.0 C725.0,68.3 766.7,85.0 790.0,100.0 C813.3,115.0 838.3,146.7 840.0,170.0 C841.7,193.3 823.3,223.3 800.0,240.0 C776.7,256.7 730.0,256.7 700.0,270.0 C670.0,283.3 643.3,298.3 620.0,320.0 C596.7,341.7 585.0,383.3 560.0,400.0 C535.0,416.7 493.3,423.3 470.0,420.0 C446.7,416.7 420.0,401.7 420.0,380.0 C420.0,358.3 446.7,316.7 470.0,290.0 C493.3,263.3 531.7,240.0 560.0,220.0 C588.3,200.0 616.7,193.3 640.0,170.0 C663.3,146.7 675.0,91.7 700.0,80.0Z" fill="#5DC9E1"/>
<ellipse cx="560" cy="300" rx="40" ry="45" fill="#70CDB6"/>
<path d="M400.0,690.0 C396.7,695.0 388.3,728.3 380.0,750.0 C371.7,771.7 361.7,798.3 350.0,820.0 C338.3,841.7 325.0,858.3 310.0,880.0 C295.0,901.7 271.7,921.7 260.0,950.0 C248.3,978.3 246.7,1016.7 240.0,1050.0 C233.3,1083.3 221.7,1108.3 220.0,1150.0 C218.3,1191.7 225.0,1271.7 230.0,1300.0 C235.0,1328.3 238.3,1325.0 250.0,1320.0 C261.7,1315.0 288.3,1290.0 300.0,1270.0 C311.7,1250.0 316.7,1228.3 320.0,1200.0 C323.3,1171.7 316.7,1133.3 320.0,1100.0 C323.3,1066.7 335.0,1033.3 340.0,1000.0 C345.0,966.7 346.7,930.0 350.0,900.0 C353.3,870.0 351.7,850.0 360.0,820.0 C368.3,790.0 393.3,741.7 400.0,720.0 C406.7,698.3 403.3,685.0 400.0,690.0Z" fill="#F0BB2B"/>
<path d="M300.0,900.0 C313.3,900.0 335.0,925.0 340.0,950.0 C345.0,975.0 335.0,1016.7 330.0,1050.0 C325.0,1083.3 320.0,1131.7 310.0,1150.0 C300.0,1168.3 283.3,1163.3 270.0,1160.0 C256.7,1156.7 235.0,1148.3 230.0,1130.0 C225.0,1111.7 235.0,1080.0 240.0,1050.0 C245.0,1020.0 250.0,975.0 260.0,950.0 C270.0,925.0 286.7,900.0 300.0,900.0Z" fill="#E92429"/>
<ellipse cx="380" cy="720" rx="20" ry="25" fill="#F0BB2B"/>
<ellipse cx="440" cy="1620" rx="18" ry="22" fill="#ADDB36"/>
<path d="M700.0,800.0 C710.0,791.7 740.0,771.7 760.0,770.0 C780.0,768.3 805.0,781.7 820.0,790.0 C835.0,798.3 850.0,805.0 850.0,820.0 C850.0,835.0 833.3,868.3 820.0,880.0 C806.7,891.7 783.3,895.0 770.0,890.0 C756.7,885.0 751.7,861.7 740.0,850.0 C728.3,838.3 706.7,828.3 700.0,820.0 C693.3,811.7 690.0,808.3 700.0,800.0Z" fill="#3A52B0"/>
<path d="M470.0,1000.0 C483.3,980.0 523.3,971.7 540.0,980.0 C556.7,988.3 563.3,1021.7 570.0,1050.0 C576.7,1078.3 576.7,1116.7 580.0,1150.0 C583.3,1183.3 595.0,1226.7 590.0,1250.0 C585.0,1273.3 563.3,1290.0 550.0,1290.0 C536.7,1290.0 521.7,1270.0 510.0,1250.0 C498.3,1230.0 488.3,1195.0 480.0,1170.0 C471.7,1145.0 461.7,1128.3 460.0,1100.0 C458.3,1071.7 456.7,1020.0 470.0,1000.0Z" fill="#3A52B0"/>
<ellipse cx="912" cy="1192" rx="45" ry="50" fill="#3A52B0"/>
<ellipse cx="995" cy="1265" rx="25" ry="35" fill="#3A52B0" transform="rotate(30 995 1265)"/>
<ellipse cx="610" cy="1375" rx="20" ry="10" fill="#3A52B0" transform="rotate(-30 610 1375)"/>
<ellipse cx="1295" cy="820" rx="9" ry="9" fill="#9FE3F0"/></g><line x1="1129" y1="1769" x2="1139" y2="1753" stroke="#5DC9E1" stroke-width="3"/><line x1="1236" y1="1738" x2="1241" y2="1728" stroke="#5DC9E1" stroke-width="2.5"/></g>
<rect x="1112.20" y="1907.20" width="25.96" height="28.00" fill="#3A4FAE"/>
<rect x="1137.56" y="1907.20" width="51.31" height="28.00" fill="#4777C4"/>
<rect x="1188.27" y="1907.20" width="51.31" height="28.00" fill="#5DC9E1"/>
<rect x="1238.98" y="1907.20" width="51.31" height="28.00" fill="#70CDB6"/>
<rect x="1289.68" y="1907.20" width="51.31" height="28.00" fill="#62C46C"/>
<rect x="1340.39" y="1907.20" width="51.31" height="28.00" fill="#62C232"/>
<rect x="1391.11" y="1907.20" width="51.31" height="28.00" fill="#62C232"/>
<rect x="1441.82" y="1907.20" width="51.31" height="28.00" fill="#ADDB36"/>
<rect x="1492.53" y="1907.20" width="51.31" height="28.00" fill="#F0BB2B"/>
<rect x="1543.24" y="1907.20" width="51.31" height="28.00" fill="#F05F29"/>
<rect x="1593.94" y="1907.20" width="25.36" height="28.00" fill="#E92429"/>
<text x="991.3" y="1168.7" font-size="56" font-style="italic">t</text>
<text x="1018.2" y="1168.7" font-size="56">=</text>
<text x="1065.6" y="1168.7" font-size="56">40</text>
<text x="1130.0" y="1168.7" font-size="56">h</text>
<text x="1296.9" y="1136.8" font-size="56">90ºE</text>
<text x="1687.5" y="1156.8" font-size="56" letter-spacing="2.6">(e)</text>
<text x="949.8" y="1510.6" font-size="56">0º</text>
<text x="1705.6" y="1510.6" font-size="56">180º</text>
<text x="1299.5" y="1897.0" font-size="56">90ºW</text>
<text x="1063.0" y="1983.0" font-size="54">−0.30</text>
<text x="1241.8" y="1983.0" font-size="54">0.24</text>
<text x="1394.4" y="1983.0" font-size="54">0.68</text>
<text x="1545.6" y="1983.0" font-size="54">0.95</text>
<text x="1212.6" y="2035.4" font-size="54" letter-spacing="0.8">Density / cm<tspan font-size="36" dy="-17">−3</tspan></text>
</g>
<g id="pf">
<clipPath id="clf"><ellipse cx="2254.9" cy="1495.8" rx="352.6" ry="352.2"/></clipPath>
<ellipse cx="2254.9" cy="1495.8" rx="352.6" ry="352.2" fill="#3856B0"/>
<g clip-path="url(#clf)"><path d="M2026.7,1287.9 C2035.0,1282.9 2058.0,1281.3 2068.6,1279.9 C2079.3,1278.6 2084.6,1276.6 2090.6,1279.9 C2096.6,1283.3 2102.9,1294.2 2104.5,1299.9 C2106.2,1305.5 2105.5,1310.9 2100.5,1313.9 C2095.6,1316.9 2082.3,1315.9 2074.6,1317.9 C2067.0,1319.8 2060.0,1322.2 2054.6,1325.8 C2049.3,1329.5 2046.7,1335.1 2042.7,1339.8 C2038.7,1344.5 2033.4,1348.1 2030.7,1353.8 C2028.0,1359.4 2028.0,1366.7 2026.7,1373.7 C2025.4,1380.7 2024.7,1389.7 2022.7,1395.7 C2020.7,1401.7 2017.1,1402.3 2014.7,1409.6 C2012.4,1417.0 2010.7,1431.3 2008.7,1439.6 C2006.8,1447.9 2005.1,1452.9 2002.8,1459.5 C2000.4,1466.2 1996.8,1472.8 1994.8,1479.5 C1992.8,1486.1 1993.1,1492.8 1990.8,1499.5 C1988.5,1506.1 1982.8,1511.1 1980.8,1519.4 C1978.8,1527.7 1979.8,1541.0 1978.8,1549.3 C1977.8,1557.7 1974.8,1559.2 1974.8,1569.3 C1974.8,1579.4 1978.8,1609.9 1978.8,1610.0 C1978.8,1610.1 1974.5,1571.6 1974.8,1569.9 C1975.2,1568.2 1980.3,1589.9 1980.8,1599.9 C1981.3,1609.8 1976.3,1619.8 1977.8,1629.8 C1979.3,1639.8 1985.3,1650.7 1989.8,1659.7 C1994.3,1668.7 1998.8,1676.2 2004.8,1683.7 C2010.7,1691.2 2019.2,1697.6 2025.7,1704.6 C2032.2,1711.6 2037.2,1719.6 2043.7,1725.6 C2050.2,1731.6 2056.1,1736.5 2064.6,1740.5 C2073.1,1744.5 2084.6,1747.0 2094.6,1749.5 C2104.5,1752.0 2114.5,1754.5 2124.5,1755.5 C2134.5,1756.5 2144.4,1755.5 2154.4,1755.5 C2164.4,1755.5 2174.4,1754.5 2184.3,1755.5 C2194.3,1756.5 2207.3,1759.5 2214.3,1761.5 C2221.3,1763.5 2226.2,1764.2 2226.2,1767.5 C2226.2,1770.7 2221.3,1777.2 2214.3,1780.9 C2207.3,1784.7 2194.3,1787.4 2184.3,1789.9 C2174.4,1792.4 2164.4,1794.2 2154.4,1795.9 C2144.4,1797.7 2137.0,1798.2 2124.5,1800.4 C2112.0,1802.6 2102.0,1807.9 2079.6,1809.4 C2057.1,1810.9 2024.7,1834.3 1989.8,1809.4 C1954.9,1784.4 1889.2,1713.0 1870.1,1659.7 C1850.9,1606.4 1869.2,1519.5 1875.0,1489.5 C1880.9,1459.4 1899.0,1484.5 1905.0,1479.5 C1911.0,1474.5 1906.6,1463.5 1911.0,1459.5 C1915.3,1455.5 1924.3,1458.5 1930.9,1455.5 C1937.6,1452.6 1945.9,1445.9 1950.9,1441.6 C1955.9,1437.3 1957.5,1434.9 1960.9,1429.6 C1964.2,1424.3 1967.8,1416.3 1970.8,1409.6 C1973.8,1403.0 1975.5,1396.3 1978.8,1389.7 C1982.1,1383.0 1988.1,1376.4 1990.8,1369.7 C1993.5,1363.1 1992.1,1356.4 1994.8,1349.8 C1997.4,1343.1 2002.8,1336.5 2006.8,1329.8 C2010.7,1323.2 2015.4,1316.9 2018.7,1309.9 C2022.1,1302.9 2018.4,1292.9 2026.7,1287.9Z" fill="#4677C5"/>
<path d="M2022.7,1325.8 C2027.4,1312.2 2038.7,1317.9 2042.7,1317.9 C2046.7,1317.9 2047.3,1322.2 2046.7,1325.8 C2046.0,1329.5 2042.0,1336.5 2038.7,1339.8 C2035.4,1343.1 2028.7,1342.1 2026.7,1345.8 C2024.7,1349.4 2027.0,1354.4 2026.7,1361.8 C2026.4,1369.1 2026.7,1383.4 2024.7,1389.7 C2022.7,1396.0 2017.7,1396.3 2014.7,1399.7 C2011.7,1403.0 2008.7,1404.7 2006.8,1409.6 C2004.8,1414.6 2004.1,1423.0 2002.8,1429.6 C2001.4,1436.3 2000.8,1441.2 1998.8,1449.6 C1996.8,1457.9 1993.1,1469.5 1990.8,1479.5 C1988.5,1489.5 1987.1,1499.5 1984.8,1509.4 C1982.5,1519.4 1978.8,1529.4 1976.8,1539.4 C1974.8,1549.3 1973.0,1557.5 1972.8,1569.3 C1972.7,1581.1 1975.7,1609.9 1975.8,1610.0 C1975.9,1610.1 1972.9,1571.6 1973.3,1569.9 C1973.8,1568.2 1978.1,1589.9 1978.4,1599.9 C1978.8,1609.8 1973.9,1619.8 1975.4,1629.8 C1976.9,1639.8 1982.9,1650.7 1987.4,1659.7 C1991.9,1668.7 1996.4,1676.2 2002.4,1683.7 C2008.4,1691.2 2016.8,1697.6 2023.3,1704.6 C2029.8,1711.6 2034.8,1719.6 2041.3,1725.6 C2047.8,1731.6 2053.7,1736.5 2062.2,1740.5 C2070.7,1744.5 2082.2,1747.0 2092.2,1749.5 C2102.1,1752.0 2112.1,1754.5 2122.1,1755.5 C2132.1,1756.5 2142.0,1755.5 2152.0,1755.5 C2162.0,1755.5 2172.1,1754.5 2182.0,1755.5 C2191.8,1756.5 2204.6,1759.2 2211.3,1761.5 C2217.9,1763.7 2221.8,1766.0 2221.8,1769.0 C2221.8,1772.0 2218.0,1776.2 2211.3,1779.4 C2204.5,1782.7 2191.3,1785.9 2181.4,1788.4 C2171.4,1790.9 2161.4,1792.7 2151.4,1794.4 C2141.4,1796.2 2133.5,1796.4 2121.5,1798.9 C2109.5,1801.4 2101.5,1807.6 2079.6,1809.4 C2057.6,1811.1 2024.7,1834.3 1989.8,1809.4 C1954.9,1784.4 1889.2,1709.7 1870.1,1659.7 C1850.9,1609.7 1869.2,1538.5 1875.0,1509.4 C1880.9,1480.4 1898.3,1491.8 1905.0,1485.5 C1911.6,1479.2 1910.0,1474.8 1915.0,1471.5 C1919.9,1468.2 1928.3,1467.9 1934.9,1465.5 C1941.6,1463.2 1948.2,1460.2 1954.9,1457.5 C1961.5,1454.9 1969.2,1452.2 1974.8,1449.6 C1980.5,1446.9 1984.8,1444.9 1988.8,1441.6 C1992.8,1438.3 1995.8,1434.9 1998.8,1429.6 C2001.8,1424.3 2004.1,1414.6 2006.8,1409.6 C2009.4,1404.7 2012.1,1413.6 2014.7,1399.7 C2017.4,1385.7 2018.1,1339.5 2022.7,1325.8Z" fill="#5DC9E1"/>
<path d="M2002.8,1407.7 C2007.1,1407.3 2006.6,1414.3 2006.8,1419.6 C2006.9,1424.9 2005.1,1432.9 2003.8,1439.6 C2002.4,1446.2 2001.3,1452.9 1998.8,1459.5 C1996.3,1466.2 1991.8,1471.2 1988.8,1479.5 C1985.8,1487.8 1983.3,1499.5 1980.8,1509.4 C1978.3,1519.4 1975.7,1529.4 1973.8,1539.4 C1972.0,1549.3 1970.0,1557.5 1969.8,1569.3 C1969.7,1581.1 1972.7,1609.9 1972.8,1610.0 C1972.9,1610.1 1970.0,1571.6 1970.3,1569.9 C1970.7,1568.2 1974.6,1589.9 1974.8,1599.9 C1975.1,1609.8 1970.3,1619.8 1971.8,1629.8 C1973.3,1639.8 1979.3,1650.7 1983.8,1659.7 C1988.3,1668.7 1992.8,1675.7 1998.8,1683.7 C2004.8,1691.7 2013.2,1700.1 2019.7,1707.6 C2026.2,1715.1 2031.2,1722.3 2037.7,1728.6 C2044.2,1734.8 2049.7,1740.9 2058.6,1745.0 C2067.6,1749.1 2081.1,1750.6 2091.6,1753.1 C2102.0,1755.6 2111.5,1758.8 2121.5,1760.0 C2131.5,1761.1 2143.4,1760.0 2151.4,1760.0 C2159.4,1760.0 2166.4,1756.8 2169.4,1760.0 C2172.4,1763.2 2172.4,1774.7 2169.4,1779.4 C2166.4,1784.2 2159.4,1785.9 2151.4,1788.4 C2143.4,1790.9 2133.5,1790.9 2121.5,1794.4 C2109.5,1797.9 2101.5,1806.9 2079.6,1809.4 C2057.6,1811.9 2024.7,1834.3 1989.8,1809.4 C1954.9,1784.4 1889.2,1708.1 1870.1,1659.7 C1850.9,1611.4 1868.9,1544.5 1875.0,1519.4 C1881.2,1494.4 1899.7,1513.8 1907.0,1509.4 C1914.3,1505.1 1914.3,1498.8 1918.9,1493.5 C1923.6,1488.1 1928.9,1482.8 1934.9,1477.5 C1940.9,1472.2 1949.2,1467.5 1954.9,1461.5 C1960.5,1455.5 1964.5,1448.2 1968.8,1441.6 C1973.2,1434.9 1975.2,1427.3 1980.8,1421.6 C1986.5,1416.0 1998.4,1408.0 2002.8,1407.7Z" fill="#62C232"/>
<g transform="translate(1895,1250) scale(0.199561)"><ellipse cx="1630" cy="100" rx="45" ry="100" fill="#4677C5" transform="rotate(-10 1630 100)"/>
<ellipse cx="1790" cy="200" rx="30" ry="60" fill="#4677C5" transform="rotate(-20 1790 200)"/>
<ellipse cx="690" cy="400" rx="50" ry="60" fill="#5DC9E1" transform="rotate(30 690 400)"/>
<ellipse cx="130" cy="1530" rx="40" ry="70" fill="#70CDB6"/>
<path d="M430.0,970.0 C445.0,958.3 483.3,968.3 490.0,980.0 C496.7,991.7 480.0,1020.0 470.0,1040.0 C460.0,1060.0 441.7,1073.3 430.0,1100.0 C418.3,1126.7 408.3,1166.7 400.0,1200.0 C391.7,1233.3 391.7,1271.7 380.0,1300.0 C368.3,1328.3 340.0,1345.0 330.0,1370.0 C320.0,1395.0 330.0,1431.7 320.0,1450.0 C310.0,1468.3 288.3,1483.3 270.0,1480.0 C251.7,1476.7 218.3,1460.0 210.0,1430.0 C201.7,1400.0 215.0,1338.3 220.0,1300.0 C225.0,1261.7 226.7,1230.0 240.0,1200.0 C253.3,1170.0 273.3,1145.0 300.0,1120.0 C326.7,1095.0 378.3,1075.0 400.0,1050.0 C421.7,1025.0 415.0,981.7 430.0,970.0Z" fill="#F0BB2B"/>
<path d="M270.0,1150.0 C288.3,1133.3 335.0,1103.3 360.0,1100.0 C385.0,1096.7 413.3,1105.0 420.0,1130.0 C426.7,1155.0 413.3,1216.7 400.0,1250.0 C386.7,1283.3 356.7,1313.3 340.0,1330.0 C323.3,1346.7 313.3,1355.0 300.0,1350.0 C286.7,1345.0 268.3,1325.0 260.0,1300.0 C251.7,1275.0 248.3,1225.0 250.0,1200.0 C251.7,1175.0 251.7,1166.7 270.0,1150.0Z" fill="#F05F29"/>
<path d="M290.0,1200.0 C300.0,1176.7 335.0,1155.0 350.0,1150.0 C365.0,1145.0 376.7,1153.3 380.0,1170.0 C383.3,1186.7 380.0,1226.7 370.0,1250.0 C360.0,1273.3 333.3,1303.3 320.0,1310.0 C306.7,1316.7 295.0,1308.3 290.0,1290.0 C285.0,1271.7 280.0,1223.3 290.0,1200.0Z" fill="#E92429"/>
<ellipse cx="280" cy="1410" rx="40" ry="30" fill="#F05F29"/>
<ellipse cx="280" cy="1710" rx="50" ry="60" fill="#ADDB36"/></g>
<g transform="translate(1900,1540) scale(0.299312)"><ellipse cx="170" cy="160" rx="40" ry="40" fill="#ADDB36"/>
<path d="M150.0,200.0 C158.3,175.0 181.7,183.3 190.0,200.0 C198.3,216.7 196.7,270.0 200.0,300.0 C203.3,330.0 210.0,355.0 210.0,380.0 C210.0,405.0 210.0,440.0 200.0,450.0 C190.0,460.0 160.0,456.7 150.0,440.0 C140.0,423.3 140.0,390.0 140.0,350.0 C140.0,310.0 141.7,225.0 150.0,200.0Z" fill="#ADDB36"/>
<ellipse cx="170" cy="410" rx="22" ry="30" fill="#F0BB2B"/>
<ellipse cx="310" cy="590" rx="40" ry="30" fill="#ADDB36" transform="rotate(20 310 590)"/>
<ellipse cx="505" cy="785" rx="40" ry="15" fill="#ADDB36"/>
<ellipse cx="615" cy="800" rx="25" ry="12" fill="#ADDB36"/>
<path d="M1060.0,700.0 C1073.3,678.3 1143.3,661.7 1180.0,640.0 C1216.7,618.3 1243.3,593.3 1280.0,570.0 C1316.7,546.7 1363.3,521.7 1400.0,500.0 C1436.7,478.3 1466.7,456.7 1500.0,440.0 C1533.3,423.3 1568.3,406.7 1600.0,400.0 C1631.7,393.3 1671.7,393.3 1690.0,400.0 C1708.3,406.7 1721.7,428.3 1710.0,440.0 C1698.3,451.7 1645.0,458.3 1620.0,470.0 C1595.0,481.7 1580.0,498.3 1560.0,510.0 C1540.0,521.7 1526.7,526.7 1500.0,540.0 C1473.3,553.3 1433.3,571.7 1400.0,590.0 C1366.7,608.3 1333.3,630.0 1300.0,650.0 C1266.7,670.0 1233.3,690.0 1200.0,710.0 C1166.7,730.0 1123.3,771.7 1100.0,770.0 C1076.7,768.3 1046.7,721.7 1060.0,700.0Z" fill="#4677C5"/>
<ellipse cx="1210" cy="675" rx="32" ry="42" fill="#5DC9E1" transform="rotate(30 1210 675)"/>
<ellipse cx="1300" cy="605" rx="35" ry="38" fill="#5DC9E1" transform="rotate(30 1300 605)"/>
<ellipse cx="1370" cy="560" rx="38" ry="34" fill="#62C46C" transform="rotate(30 1370 560)"/>
<ellipse cx="1440" cy="520" rx="35" ry="30" fill="#5DC9E1" transform="rotate(30 1440 520)"/>
<ellipse cx="1505" cy="490" rx="32" ry="38" fill="#62C46C" transform="rotate(20 1505 490)"/>
<ellipse cx="1575" cy="465" rx="22" ry="28" fill="#5DC9E1" transform="rotate(20 1575 465)"/>
<ellipse cx="1330" cy="825" rx="22" ry="40" fill="#4677C5"/>
<ellipse cx="900" cy="770" rx="40" ry="25" fill="#62C46C" transform="rotate(-20 900 770)"/></g></g>
<rect x="2007.60" y="1907.20" width="26.01" height="28.70" fill="#3A4FAE"/>
<rect x="2033.01" y="1907.20" width="51.42" height="28.70" fill="#4777C4"/>
<rect x="2083.83" y="1907.20" width="51.42" height="28.70" fill="#5DC9E1"/>
<rect x="2134.65" y="1907.20" width="51.42" height="28.70" fill="#70CDB6"/>
<rect x="2185.47" y="1907.20" width="51.42" height="28.70" fill="#62C46C"/>
<rect x="2236.29" y="1907.20" width="51.42" height="28.70" fill="#62C232"/>
<rect x="2287.11" y="1907.20" width="51.42" height="28.70" fill="#62C232"/>
<rect x="2337.93" y="1907.20" width="51.42" height="28.70" fill="#ADDB36"/>
<rect x="2388.75" y="1907.20" width="51.42" height="28.70" fill="#F0BB2B"/>
<rect x="2439.57" y="1907.20" width="51.42" height="28.70" fill="#F05F29"/>
<rect x="2490.39" y="1907.20" width="25.41" height="28.70" fill="#E92429"/>
<text x="1910.2" y="1151.5" font-size="56" font-style="italic">t</text>
<text x="1936.8" y="1151.5" font-size="56">=</text>
<text x="1984.3" y="1151.5" font-size="56">60</text>
<text x="2050.0" y="1151.5" font-size="56">h</text>
<text x="2199.7" y="1136.8" font-size="56">90ºE</text>
<text x="2589.4" y="1156.8" font-size="56" letter-spacing="2.6">(f)</text>
<text x="1852.1" y="1510.6" font-size="56">0º</text>
<text x="2608.4" y="1510.9" font-size="56">180º</text>
<text x="2202.5" y="1897.0" font-size="56">90ºW</text>
<text x="1984.6" y="1983.0" font-size="54">0.10</text>
<text x="2133.0" y="1983.0" font-size="54">0.33</text>
<text x="2287.4" y="1983.0" font-size="54">0.55</text>
<text x="2438.6" y="1983.0" font-size="54">0.77</text>
<text x="2116.8" y="2035.4" font-size="54" letter-spacing="0.8">Density / cm<tspan font-size="36" dy="-17">−3</tspan></text>
</g>
<g id="pg">
<clipPath id="clg"><ellipse cx="450.3" cy="2483.0" rx="351.3" ry="352.3"/></clipPath>
<ellipse cx="450.3" cy="2483.0" rx="351.3" ry="352.3" fill="#62C233"/>
<g clip-path="url(#clg)"><g transform="translate(90,2125) scale(0.399106)">
<polygon fill="#78CB2E" points="1500,-50 1500,150 1436,210 1376,220 1276,240 1201,255 1126,280 1051,320 996,360 956,400 916,450 886,500 856,550 826,600 803,650 800,690 776,740 766,814 776,851 796,876 776,909 801,926 851,939 885,949 895,976 897,1014 897,1064 900,1120 907,1199 872,1249 812,1304 737,1369 662,1419 562,1469 462,1509 362,1519 262,1529 150,1560 -50,1560 -50,-50"/>
<polygon fill="#78CB2E" points="1070,960 1100,910 1200,900 1300,920 1400,960 1470,1010 1530,1100 1580,1200 1620,1300 1660,1380 1900,1500 1900,1900 700,1900 780,1790 800,1760 900,1720 1000,1650 1080,1550 1120,1450 1140,1350 1130,1250 1100,1150 1080,1050"/>
<polygon fill="#ADDB37" points="1060,1790 1100,1680 1150,1620 1200,1560 1240,1510 1280,1470 1300,1480 1330,1500 1360,1560 1385,1620 1420,1700 1300,1900 1000,1900"/>
<polygon fill="#ADDB37" points="1340,-50 1326,120 1266,145 1251,125 1201,150 1151,165 1106,200 1056,230 1026,215 996,245 956,280 916,320 876,370 861,400 841,450 811,495 791,525 766,500 751,540 731,600 726,625 739,639 751,664 774,701 776,726 766,744 734,751 726,789 701,839 681,889 689,901 714,909 739,889 764,876 776,889 776,914 814,926 851,939 876,949 886,964 888,1014 888,1064 890,1120 897,1179 862,1219 812,1264 737,1329 662,1379 562,1429 462,1469 362,1479 242,1494 100,1520 -50,1520 -50,-50"/>
<polygon fill="#E8EA33" points="380,150 407,180 412,210 417,260 419,313 439,346 472,396 489,446 506,480 532,513 562,526 586,540 602,545 637,570 642,550 637,500 617,460 612,430 627,400 652,360 672,325 692,295 712,310 732,340 747,320 762,290 792,255 812,235 841,210 846,190 856,145 871,115 901,85 931,50 961,15 980,-20 380,-20"/>
<polygon fill="#E8EA33" points="437,478 479,500 529,546 579,596 614,630 612,650 597,675 572,668 529,630 496,580 462,530"/>
<polygon fill="#78CB2E" points="329,563 379,590 429,630 479,663 529,696 579,730 614,753 639,769 642,789 647,839 637,879 614,886 587,870 562,863 529,833 479,796 429,753 396,713 362,663 346,613 335,585"/>
<polygon fill="#62C233" points="352,590 400,615 450,648 500,680 550,710 600,740 622,770 625,830 612,862 585,850 540,820 490,785 440,745 405,700 378,650 362,615"/>
<polygon fill="#ADDB37" points="690,720 735,735 760,760 745,800 720,850 700,890 680,905 650,905 640,890 660,840 680,780"/>
<polygon fill="#E8EA33" points="702,735 735,745 735,775 715,820 695,865 675,895 660,895 668,850 688,790"/>
<polygon fill="#E8EA33" points="-50,300 202,356 206,396 212,446 209,480 219,513 246,563 272,613 296,646 319,680 346,713 379,746 412,780 446,813 479,846 512,880 532,914 562,904 587,924 600,910 640,895 701,914 739,909 764,901 789,926 826,939 864,951 881,976 881,1039 876,1090 892,1154 872,1189 822,1229 762,1279 687,1334 612,1379 512,1419 412,1439 312,1454 222,1469 100,1490 -50,1490"/>
<polygon fill="#F1BC2A" points="-50,380 126,486 139,513 152,546 169,580 192,613 219,646 246,680 272,713 299,746 329,780 362,813 379,836 372,853 396,880 412,914 462,909 512,934 562,969 577,989 592,969 602,914 642,894 667,899 712,919 742,924 762,954 782,969 812,959 852,969 872,999 872,1089 862,1139 852,1169 837,1199 792,1229 737,1269 662,1319 587,1364 512,1389 412,1409 312,1429 202,1449 100,1460 -50,1460"/>
<polygon fill="#F48C26" points="-50,560 66,623 96,646 126,680 152,713 179,746 206,780 232,813 259,836 239,853 259,880 279,914 312,869 362,899 402,929 437,974 452,999 492,1019 537,1039 567,1049 590,1060 600,940 640,920 700,935 745,940 770,975 810,985 850,990 850,1089 845,1139 830,1170 800,1200 750,1245 700,1275 600,1330 500,1360 400,1385 300,1405 200,1420 -50,1430"/>
<polygon fill="#F05F2A" points="-50,700 29,743 102,816 32,846 62,890 112,899 162,939 212,974 262,1004 257,1049 292,1079 362,1099 412,1114 462,1109 512,1097 562,1099 592,1114 587,1154 617,1164 637,1184 622,1229 587,1264 537,1294 462,1309 387,1329 312,1349 252,1386 200,1400 -50,1400"/>
<polygon fill="#EC3427" points="177,1284 237,1244 312,1209 362,1187 412,1194 442,1219 442,1239 412,1264 362,1284 302,1294 237,1299 177,1287"/>
<polygon fill="#EC3427" points="37,1039 62,1069 72,1114 62,1149 47,1139 32,1089"/>
<polygon fill="#F05F2A" points="607,929 637,909 662,904 702,924 737,929 752,954 777,979 792,974 822,979 852,999 847,1039 837,1089 837,1139 832,1169 812,1184 762,1189 722,1184 677,1159 637,1124 607,1089 597,1039 597,989"/>
<polygon fill="#EC3427" points="612,969 642,964 672,979 702,1009 737,1049 772,1084 792,1119 802,1154 782,1181 737,1184 702,1169 657,1139 622,1104 607,1059 605,1014"/>
<ellipse cx="717" cy="700" rx="16" ry="11" fill="#62C233"/>
</g>
<ellipse cx="456" cy="2478" rx="14" ry="34" fill="#6CCB98" opacity="0.8" transform="rotate(-15 456 2478)"/>
<ellipse cx="452" cy="2482" rx="9" ry="14" fill="#5BC7DF"/>
<ellipse cx="450.5" cy="2482" rx="6" ry="7.5" fill="#3A4DAE"/></g>
<rect x="108.20" y="2888.20" width="17.88" height="34.40" fill="#3A4DAE"/>
<rect x="125.48" y="2888.20" width="35.16" height="34.40" fill="#3D5CB8"/>
<rect x="160.04" y="2888.20" width="35.16" height="34.40" fill="#4676C4"/>
<rect x="194.60" y="2888.20" width="35.16" height="34.40" fill="#4DA5DF"/>
<rect x="229.16" y="2888.20" width="35.16" height="34.40" fill="#5BC7DF"/>
<rect x="263.72" y="2888.20" width="35.16" height="34.40" fill="#6DCFD3"/>
<rect x="298.28" y="2888.20" width="35.16" height="34.40" fill="#6FCDB9"/>
<rect x="332.84" y="2888.20" width="35.16" height="34.40" fill="#6DCB90"/>
<rect x="367.40" y="2888.20" width="35.16" height="34.40" fill="#66C66C"/>
<rect x="401.96" y="2888.20" width="35.16" height="34.40" fill="#62C233"/>
<rect x="436.52" y="2888.20" width="35.16" height="34.40" fill="#62C233"/>
<rect x="471.08" y="2888.20" width="35.16" height="34.40" fill="#62C233"/>
<rect x="505.64" y="2888.20" width="35.16" height="34.40" fill="#62C233"/>
<rect x="540.20" y="2888.20" width="35.16" height="34.40" fill="#7ACC2E"/>
<rect x="574.76" y="2888.20" width="35.16" height="34.40" fill="#ADDB37"/>
<rect x="609.32" y="2888.20" width="35.16" height="34.40" fill="#E8EA33"/>
<rect x="643.88" y="2888.20" width="35.16" height="34.40" fill="#F1BC2A"/>
<rect x="678.44" y="2888.20" width="35.16" height="34.40" fill="#F48C26"/>
<rect x="713.00" y="2888.20" width="35.16" height="34.40" fill="#F05F2A"/>
<rect x="747.56" y="2888.20" width="35.16" height="34.40" fill="#EC3427"/>
<rect x="782.12" y="2888.20" width="17.28" height="34.40" fill="#E8242B"/>
<text x="58.3" y="2158.9" font-size="56" font-style="italic">t</text>
<text x="85.7" y="2158.9" font-size="56">=</text>
<text x="132.3" y="2158.9" font-size="56">20</text>
<text x="198.0" y="2158.9" font-size="56">h</text>
<text x="405.4" y="2119.6" font-size="56">90ºE</text>
<text x="794.4" y="2139.1" font-size="56" letter-spacing="2.6">(g)</text>
<text x="43.9" y="2494.2" font-size="56">0º</text>
<text x="813.1" y="2493.9" font-size="56">180º</text>
<text x="407.2" y="2878.5" font-size="56">90ºW</text>
<text x="68.7" y="2966.4" font-size="54" letter-spacing="1">37.0</text>
<text x="259.6" y="2966.4" font-size="54" letter-spacing="1">200.6</text>
<text x="467.8" y="2966.4" font-size="54" letter-spacing="1">364.1</text>
<text x="689.9" y="2966.4" font-size="54" letter-spacing="1">527.7</text>
<text x="229.0" y="3033.0" font-size="54" letter-spacing="0.9">Velocity / (km·s<tspan font-size="36" dy="-17">−1</tspan><tspan dy="17">)</tspan></text>
</g>
<g id="ph">
<clipPath id="clh"><ellipse cx="1348.2" cy="2478.8" rx="352.2" ry="353.8"/></clipPath>
<ellipse cx="1348.2" cy="2478.8" rx="352.2" ry="353.8" fill="#62C233"/>
<g clip-path="url(#clh)"><g transform="translate(990,2120) scale(0.399106)">
<polygon fill="#78CB2E" points="1350,-50 1300,110 1200,150 1100,200 1000,260 950,300 914,332 872,352 837,392 812,437 787,512 762,562 737,612 722,662 727,712 737,762 752,812 757,860 754,893 701,909 684,926 701,953 751,963 834,960 867,943 894,926 905,960 917,1030 920,1127 918,1226 914,1401 887,1452 812,1517 712,1572 612,1612 512,1642 387,1652 300,1660 -50,1700 -50,-50"/>
<polygon fill="#78CB2E" points="1130,880 1200,860 1300,870 1400,900 1480,930 1550,980 1620,1060 1680,1150 1740,1230 1900,1300 1900,1900 900,1900 950,1770 1050,1650 1130,1500 1170,1350 1180,1200 1160,1050 1140,950"/>
<polygon fill="#ADDB37" points="1230,1130 1250,1000 1270,950 1330,980 1380,1050 1420,1100 1480,1150 1540,1220 1580,1300 1590,1420 1560,1450 1570,1550 1620,1640 1400,1900 1150,1900 1180,1740 1200,1650 1220,1500 1240,1350 1240,1250"/>
<polygon fill="#ADDB37" points="1120,-50 1100,55 1050,100 1000,140 950,190 914,207 862,222 812,287 772,337 762,412 737,487 712,562 684,576 664,626 661,660 647,710 654,743 694,776 714,810 707,843 694,893 667,910 647,926 654,960 701,980 767,980 834,960 884,962 907,960 914,1026 917,1127 914,1226 907,1227 892,1327 872,1402 837,1452 762,1502 662,1547 562,1582 462,1607 352,1622 250,1640 -50,1650 -50,-50"/>
<polygon fill="#E8EA33" points="780,-50 772,20 762,42 737,72 712,112 702,162 687,212 662,262 642,322 627,372 612,362 572,332 542,402 512,477 522,492 552,507 592,527 607,562 607,612 587,652 572,687 552,722 522,752 492,772 477,812 467,862 494,910 541,933 584,960 634,986 701,993 784,986 834,970 884,966 894,993 901,1060 901,1127 892,1152 882,1252 862,1352 837,1412 787,1452 712,1487 612,1522 512,1552 412,1577 322,1592 200,1610 -50,1620 -50,-50"/>
<polygon fill="#ADDB37" points="252,297 262,312 277,372 302,412 337,462 367,492 387,527 392,552 352,572 437,587 440,610 432,660 428,720 424,790 412,840 390,870 362,862 312,812 262,762 212,712 162,662 147,637 142,587 122,512 112,492 -50,450 -50,250"/>
<polygon fill="#78CB2E" points="307,712 362,707 392,727 397,777 372,822 352,822 322,772 307,737"/>
<polygon fill="#F1BC2A" points="-50,600 47,657 87,712 137,762 187,802 237,837 287,862 337,887 380,895 401,880 421,870 434,893 451,926 467,953 501,960 534,966 561,993 584,1010 601,1033 634,1026 667,1016 701,1016 734,1013 767,1010 794,1013 817,1026 834,1016 867,1013 877,1043 874,1127 862,1227 837,1327 812,1402 762,1442 687,1472 587,1502 487,1527 387,1547 292,1562 200,1580 -50,1600"/>
<polygon fill="#F48C26" points="-50,760 17,802 62,837 112,862 162,887 212,914 300,905 401,893 434,943 467,993 501,1010 534,1026 567,1046 601,1060 634,1053 667,1046 717,1043 767,1046 817,1060 851,1066 867,1093 861,1127 845,1200 812,1302 787,1377 737,1432 662,1457 562,1482 462,1502 362,1522 272,1537 150,1560 -50,1560"/>
<polygon fill="#F05F2A" points="-50,900 17,922 77,972 22,1007 27,1042 87,1072 162,1107 237,1142 277,1182 297,1197 302,1102 297,1027 312,962 337,937 372,932 412,952 437,987 462,1002 487,1027 497,1062 512,1092 537,1112 562,1122 612,1152 652,1162 672,1112 677,1082 712,1072 737,1082 762,1102 812,1112 822,1152 797,1202 787,1252 762,1302 747,1352 727,1402 687,1432 637,1422 562,1422 487,1417 462,1427 412,1452 362,1462 312,1477 287,1502 262,1527 -50,1527"/>
<polygon fill="#EC3427" points="332,1037 362,1027 402,1052 427,1082 447,1127 472,1177 512,1202 562,1227 592,1252 612,1282 652,1312 667,1342 662,1377 637,1402 587,1412 512,1392 462,1377 387,1362 362,1372 312,1397 272,1407 282,1387 322,1357 362,1327 352,1277 332,1227 322,1152 327,1077"/>
<polygon fill="#E8242B" points="352,1162 387,1162 437,1202 487,1227 537,1262 572,1302 577,1352 562,1387 512,1382 437,1352 387,1327 362,1277 347,1227"/>
<polygon fill="#F1BC2A" points="453,642 487,637 517,657 517,682 492,712 472,717 455,682"/>
<ellipse cx="514" cy="846" rx="15" ry="17" fill="#78CB2E"/>
</g>
<polygon fill="#6CCB98" points="1338.9,2416.5 1362.9,2415.1 1378.8,2429.8 1381.5,2449.7 1369.5,2469.7 1365.5,2483 1376.1,2502.9 1385.5,2518.9 1380.1,2524.2 1362.9,2509.6 1349.5,2496.3 1336.2,2487 1330.9,2480.3 1338.9,2469.7 1336.2,2449.7 1333.6,2429.8"/>
<polygon fill="#5BC7DF" points="1341.6,2463 1360.2,2463 1362.9,2483 1370.8,2500.3 1362.9,2500.3 1349.5,2489.6 1338.9,2483"/>
<ellipse cx="1350.9" cy="2477.2" rx="7.3" ry="8.6" fill="#3A4DAE"/></g>
<rect x="1011.20" y="2888.80" width="18.00" height="34.60" fill="#3A4DAE"/>
<rect x="1028.61" y="2888.80" width="35.41" height="34.60" fill="#3D5CB8"/>
<rect x="1063.41" y="2888.80" width="35.41" height="34.60" fill="#4676C4"/>
<rect x="1098.22" y="2888.80" width="35.41" height="34.60" fill="#4DA5DF"/>
<rect x="1133.04" y="2888.80" width="35.41" height="34.60" fill="#5BC7DF"/>
<rect x="1167.85" y="2888.80" width="35.41" height="34.60" fill="#6DCFD3"/>
<rect x="1202.65" y="2888.80" width="35.41" height="34.60" fill="#6FCDB9"/>
<rect x="1237.47" y="2888.80" width="35.41" height="34.60" fill="#6DCB90"/>
<rect x="1272.28" y="2888.80" width="35.41" height="34.60" fill="#66C66C"/>
<rect x="1307.09" y="2888.80" width="35.41" height="34.60" fill="#62C233"/>
<rect x="1341.89" y="2888.80" width="35.41" height="34.60" fill="#62C233"/>
<rect x="1376.70" y="2888.80" width="35.41" height="34.60" fill="#62C233"/>
<rect x="1411.52" y="2888.80" width="35.41" height="34.60" fill="#62C233"/>
<rect x="1446.33" y="2888.80" width="35.41" height="34.60" fill="#7ACC2E"/>
<rect x="1481.13" y="2888.80" width="35.41" height="34.60" fill="#ADDB37"/>
<rect x="1515.95" y="2888.80" width="35.41" height="34.60" fill="#E8EA33"/>
<rect x="1550.76" y="2888.80" width="35.41" height="34.60" fill="#F1BC2A"/>
<rect x="1585.57" y="2888.80" width="35.41" height="34.60" fill="#F48C26"/>
<rect x="1620.38" y="2888.80" width="35.41" height="34.60" fill="#F05F2A"/>
<rect x="1655.18" y="2888.80" width="35.41" height="34.60" fill="#EC3427"/>
<rect x="1690.00" y="2888.80" width="17.40" height="34.60" fill="#E8242B"/>
<text x="996.3" y="2134.3" font-size="56" font-style="italic">t</text>
<text x="1023.7" y="2134.3" font-size="56">=</text>
<text x="1071.1" y="2134.3" font-size="56">40</text>
<text x="1134.7" y="2134.3" font-size="56">h</text>
<text x="1300.5" y="2119.0" font-size="56">90ºE</text>
<text x="1689.4" y="2139.1" font-size="56" letter-spacing="2.6">(h)</text>
<text x="938.8" y="2493.9" font-size="56">0º</text>
<text x="1708.5" y="2493.9" font-size="56">180º</text>
<text x="1302.7" y="2878.0" font-size="56">90ºW</text>
<text x="965.1" y="2966.4" font-size="54" letter-spacing="1">37.0</text>
<text x="1168.4" y="2966.4" font-size="54" letter-spacing="1">200.4</text>
<text x="1376.7" y="2966.4" font-size="54" letter-spacing="1">363.9</text>
<text x="1598.8" y="2966.4" font-size="54" letter-spacing="1">527.4</text>
<text x="1157.8" y="3035.1" font-size="54" letter-spacing="0.9">Velocity / (km·s<tspan font-size="36" dy="-17">−1</tspan><tspan dy="17">)</tspan></text>
</g>
<g id="pi">
<clipPath id="cli"><ellipse cx="2251.3" cy="2484.8" rx="352.3" ry="352.8"/></clipPath>
<ellipse cx="2251.3" cy="2484.8" rx="352.3" ry="352.8" fill="#62C233"/>
<g clip-path="url(#cli)"><g transform="translate(1890,2125) scale(0.399106)">
<polygon fill="#78CB2E" points="1300,-50 1230,80 1150,120 1050,170 950,230 880,300 820,380 780,440 760,500 750,600 740,700 740,800 730,860 700,880 660,900 640,940 660,980 720,990 800,985 860,975 900,990 920,1050 930,1150 935,1250 930,1350 920,1450 880,1520 800,1580 700,1620 600,1660 520,1690 -50,1750 -50,-50"/>
<polygon fill="#78CB2E" points="1100,860 1150,820 1250,800 1350,800 1450,820 1520,850 1600,900 1680,960 1740,1030 1800,1060 1900,1900 900,1900 1000,1760 1100,1600 1150,1450 1170,1300 1160,1150 1140,1050 1110,950"/>
<polygon fill="#ADDB37" points="1240,960 1260,900 1300,870 1360,860 1420,880 1500,920 1580,980 1650,1050 1710,1120 1760,1180 1900,1900 1150,1900 1200,1720 1260,1600 1290,1500 1300,1400 1290,1300 1270,1150 1250,1050"/>
<polygon fill="#E8EA33" points="1420,1230 1440,1150 1460,1080 1490,1050 1510,1090 1500,1150 1460,1200 1430,1240"/>
<polygon fill="#ADDB37" points="1100,-50 1080,40 1000,100 930,160 870,230 830,280 790,330 740,400 720,450 700,500 680,560 660,620 670,680 690,760 700,820 690,860 640,860 590,880 560,920 570,960 640,990 720,1000 800,1000 860,990 890,1000 905,1050 915,1150 920,1250 915,1350 905,1420 860,1490 780,1550 680,1600 580,1640 490,1670 -50,1720 -50,-50"/>
<polygon fill="#E8EA33" points="500,-50 880,-50 880,20 800,60 770,100 740,130 700,170 680,210 670,260 650,330 630,390 600,430 560,470 530,520 520,580 540,630 570,680 610,720 640,760 640,800 600,830 540,860 500,890 490,930 510,970 560,990 640,1005 720,1010 800,1010 860,1000 880,1010 890,1060 900,1150 905,1250 900,1350 895,1420 875,1480 830,1530 750,1580 650,1620 550,1650 450,1660 -50,1700 -50,-50"/>
<polygon fill="#F1BC2A" points="370,210 420,170 470,130 520,110 540,140 500,190 480,230 510,270 530,300 520,350 480,370 450,360 430,330 400,280 370,240"/>
<polygon fill="#F1BC2A" points="250,480 280,440 320,350 370,330 420,340 440,400 430,480 410,560 390,620 360,640 320,660 290,700 270,760 260,790 240,760 240,680 250,600 260,540"/>
<polygon fill="#F1BC2A" points="-50,810 22,820 100,830 180,815 250,830 280,900 290,960 320,990 400,1000 450,1030 520,1040 600,1040 700,1050 800,1040 850,1050 870,1100 880,1200 885,1300 880,1400 860,1460 820,1510 740,1560 640,1600 540,1630 440,1640 -50,1680"/>
<polygon fill="#F48C26" points="-50,860 22,870 100,880 180,870 220,900 240,960 280,1010 300,1060 360,1080 420,1090 500,1080 560,1100 600,1110 680,1090 760,1100 820,1100 850,1150 860,1250 855,1350 840,1420 800,1480 720,1530 620,1570 520,1600 420,1610 -50,1650"/>
<polygon fill="#F05F2A" points="-50,920 22,930 100,920 170,930 200,980 220,1040 260,1100 290,1130 330,1150 420,1160 470,1150 520,1140 580,1160 650,1170 700,1140 770,1150 810,1170 820,1250 815,1350 790,1420 740,1470 660,1510 560,1550 460,1580 400,1590 -50,1620"/>
<polygon fill="#EC3427" points="-50,990 22,1000 80,1030 130,1050 170,1100 200,1150 230,1200 290,1230 350,1240 400,1230 450,1250 520,1250 560,1220 600,1200 650,1220 700,1250 740,1280 700,1350 650,1400 600,1430 540,1470 470,1520 440,1580 420,1620 -50,1620"/>
<polygon fill="#E8242B" points="40,1040 130,1080 200,1200 260,1300 330,1400 400,1450 450,1500 430,1560 380,1600 250,1500 150,1380 40,1200"/>
<ellipse cx="505" cy="790" rx="35" ry="28" fill="#F1BC2A"/>
<ellipse cx="152" cy="560" rx="22" ry="16" fill="#ADDB37"/>
<ellipse cx="142" cy="665" rx="14" ry="34" fill="#ADDB37"/>
<ellipse cx="330" cy="818" rx="26" ry="36" fill="#ADDB37"/>
<polygon fill="#6CCB98" points="860,760 920,740 960,790 960,850 930,880 990,990 960,990 900,930 860,930 880,880 860,830"/>
<polygon fill="#5BC7DF" points="880,860 930,860 935,900 960,950 940,950 905,920 875,915"/>
<ellipse cx="906" cy="899" rx="18" ry="20" fill="#3A4DAE"/>
</g></g>
<rect x="1916.50" y="2887.90" width="17.93" height="34.60" fill="#3A4DAE"/>
<rect x="1933.83" y="2887.90" width="35.25" height="34.60" fill="#3D5CB8"/>
<rect x="1968.48" y="2887.90" width="35.25" height="34.60" fill="#4676C4"/>
<rect x="2003.14" y="2887.90" width="35.25" height="34.60" fill="#4DA5DF"/>
<rect x="2037.79" y="2887.90" width="35.26" height="34.60" fill="#5BC7DF"/>
<rect x="2072.45" y="2887.90" width="35.25" height="34.60" fill="#6DCFD3"/>
<rect x="2107.10" y="2887.90" width="35.26" height="34.60" fill="#6FCDB9"/>
<rect x="2141.76" y="2887.90" width="35.25" height="34.60" fill="#6DCB90"/>
<rect x="2176.41" y="2887.90" width="35.26" height="34.60" fill="#66C66C"/>
<rect x="2211.07" y="2887.90" width="35.25" height="34.60" fill="#62C233"/>
<rect x="2245.72" y="2887.90" width="35.26" height="34.60" fill="#62C233"/>
<rect x="2280.38" y="2887.90" width="35.26" height="34.60" fill="#62C233"/>
<rect x="2315.03" y="2887.90" width="35.25" height="34.60" fill="#62C233"/>
<rect x="2349.69" y="2887.90" width="35.26" height="34.60" fill="#7ACC2E"/>
<rect x="2384.34" y="2887.90" width="35.25" height="34.60" fill="#ADDB37"/>
<rect x="2419.00" y="2887.90" width="35.26" height="34.60" fill="#E8EA33"/>
<rect x="2453.65" y="2887.90" width="35.25" height="34.60" fill="#F1BC2A"/>
<rect x="2488.31" y="2887.90" width="35.26" height="34.60" fill="#F48C26"/>
<rect x="2522.96" y="2887.90" width="35.25" height="34.60" fill="#F05F2A"/>
<rect x="2557.62" y="2887.90" width="35.26" height="34.60" fill="#EC3427"/>
<rect x="2592.27" y="2887.90" width="17.33" height="34.60" fill="#E8242B"/>
<text x="1914.9" y="2134.3" font-size="56" font-style="italic">t</text>
<text x="1942.3" y="2134.3" font-size="56">=</text>
<text x="1989.8" y="2134.3" font-size="56">60</text>
<text x="2054.7" y="2134.3" font-size="56">h</text>
<text x="2203.0" y="2119.0" font-size="56">90ºE</text>
<text x="2592.5" y="2139.1" font-size="56" letter-spacing="2.6">(i)</text>
<text x="1842.3" y="2493.9" font-size="56">0º</text>
<text x="2611.4" y="2493.9" font-size="56">180º</text>
<text x="2205.2" y="2878.0" font-size="56">90ºW</text>
<text x="1867.4" y="2966.4" font-size="54" letter-spacing="1">35.9</text>
<text x="2073.7" y="2966.4" font-size="54" letter-spacing="1">194.8</text>
<text x="2279.8" y="2966.4" font-size="54" letter-spacing="1">353.7</text>
<text x="2502.3" y="2966.4" font-size="54" letter-spacing="1">512.5</text>
<text x="2031.2" y="3040.4" font-size="54" letter-spacing="0.9">Velocity / (km·s<tspan font-size="36" dy="-17">−1</tspan><tspan dy="17">)</tspan></text>
</g>
</svg>
</body></html>
